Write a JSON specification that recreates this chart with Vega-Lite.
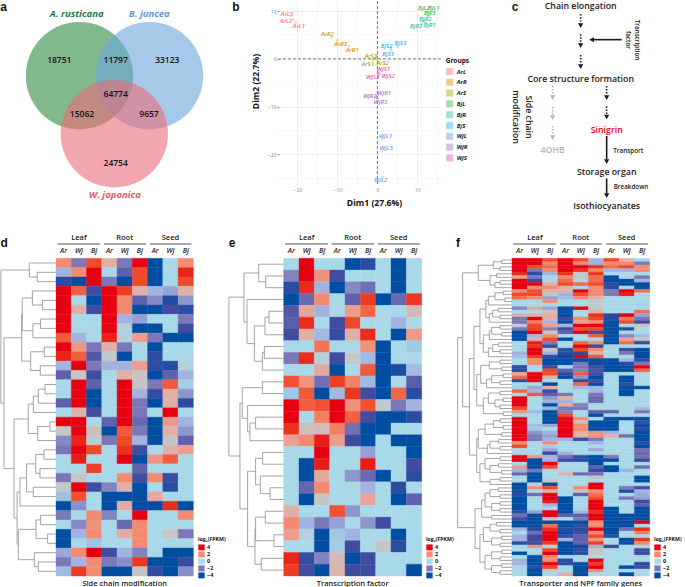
{"$schema":"https://vega.github.io/schema/vega-lite/v6.json","padding":0,"background":"white","config":{"view":{"stroke":null},"font":"Open Sans"},"spacing":0,"resolve":{"scale":{"color":"independent","stroke":"independent","shape":"independent"},"legend":{"color":"independent","stroke":"independent","shape":"independent"}},
"datasets":{
"venn":[{"set":"A. rusticana","x":39.75,"y":37.35},{"set":"B. juncea","x":74.75,"y":37.35},{"set":"W. japonica","x":57.15,"y":66.35}],
"vennCounts":[{"n":"18751","x":29.65,"y":29.65},{"n":"11797","x":57.85,"y":29.65},{"n":"33123","x":83.65,"y":29.65},{"n":"64774","x":57.85,"y":46.5},{"n":"15062","x":41,"y":56.5},{"n":"9657","x":74.5,"y":56.5},{"n":"24754","x":57.85,"y":81.15}],
"vennNames":[{"set":"A. rusticana","x":38.35,"y":6.65},{"set":"B. juncea","x":74.65,"y":6.65},{"set":"W. japonica","x":57.35,"y":96.85}],
"lettersTop":[{"t":"a","x":1.8,"y":3.2},{"t":"b","x":118,"y":3.2}],
"pca":[{"s":"ArL1","g":"ArL","d1":-20.5,"d2":7.6,"lx":-19.6,"ly":6.8},{"s":"ArL2","g":"ArL","d1":-21,"d2":8.2,"lx":-22.9,"ly":8},{"s":"ArL3","g":"ArL","d1":-21.5,"d2":9,"lx":-22.6,"ly":9.3},{"s":"ArR1","g":"ArR","d1":-7.2,"d2":2.7,"lx":-6.3,"ly":1.9},{"s":"ArR2","g":"ArR","d1":-11.5,"d2":4.5,"lx":-12.5,"ly":5.2},{"s":"ArR3","g":"ArR","d1":-10,"d2":3.9,"lx":-9.2,"ly":3.2},{"s":"ArS1","g":"ArS","d1":-1.2,"d2":-0.3,"lx":-2.4,"ly":-1},{"s":"ArS2","g":"ArS","d1":0,"d2":-0.2,"lx":1.3,"ly":-0.8},{"s":"ArS3","g":"ArS","d1":-0.6,"d2":0.2,"lx":-1.6,"ly":0.56},{"s":"BjL1","g":"BjL","d1":13.5,"d2":9.8,"lx":14.1,"ly":10.7},{"s":"BjL2","g":"BjL","d1":12.5,"d2":9.8,"lx":11.6,"ly":10.7},{"s":"BjL3","g":"BjL","d1":12.8,"d2":9,"lx":13.1,"ly":9.5},{"s":"BjR1","g":"BjR","d1":12,"d2":7.6,"lx":13.1,"ly":7},{"s":"BjR2","g":"BjR","d1":11.5,"d2":7.9,"lx":12,"ly":8.4},{"s":"BjR3","g":"BjR","d1":11,"d2":7.4,"lx":9.7,"ly":6.9},{"s":"BjS1","g":"BjS","d1":3.4,"d2":1.8,"lx":2.7,"ly":1},{"s":"BjS2","g":"BjS","d1":3.4,"d2":2.3,"lx":2.3,"ly":2.7},{"s":"BjS3","g":"BjS","d1":5,"d2":2.6,"lx":5.75,"ly":3.3},{"s":"WjL1","g":"WjL","d1":1.2,"d2":-16.8,"lx":2,"ly":-16.2},{"s":"WjL2","g":"WjL","d1":1.3,"d2":-24.7,"lx":0.8,"ly":-25.4},{"s":"WjL3","g":"WjL","d1":1.1,"d2":-19.4,"lx":2.2,"ly":-18.6},{"s":"WjR1","g":"WjR","d1":0,"d2":-7.7,"lx":1.7,"ly":-7.2},{"s":"WjR2","g":"WjR","d1":-0.4,"d2":-8,"lx":-1.9,"ly":-7.7},{"s":"WjR3","g":"WjR","d1":0,"d2":-8.3,"lx":0.75,"ly":-9},{"s":"WjS1","g":"WjS","d1":0.4,"d2":-2.9,"lx":1.5,"ly":-2.2},{"s":"WjS2","g":"WjS","d1":0.5,"d2":-3.1,"lx":2.7,"ly":-3.6},{"s":"WjS3","g":"WjS","d1":0.2,"d2":-3.3,"lx":-1.2,"ly":-3.7}],
"zero":[{"v":0}],
"minorX":[{"v":-15},{"v":-5},{"v":5},{"v":15}],
"minorY":[{"v":-25},{"v":-15},{"v":-5},{"v":5}],
"flowText":[{"t":"Chain elongation","k":"stage","tone":"dark","x":69.85,"y":2.3},{"t":"Core structure formation","k":"stage","tone":"dark","x":69.85,"y":39},{"t":"4OHB","k":"stage","tone":"gray","x":55.85,"y":74.5},{"t":"Sinigrin","k":"stage","tone":"red","x":82.85,"y":64.35},{"t":"Storage organ","k":"stage","tone":"dark","x":82.85,"y":85.5},{"t":"Isothiocyanates","k":"stage","tone":"dark","x":82.85,"y":102.35},{"t":"Transport","k":"note","tone":"dark","x":93.65,"y":74.85},{"t":"Breakdown","k":"note","tone":"dark","x":95,"y":93},{"t":"Transcription","k":"noteR","tone":"dark","x":97.85,"y":19.5},{"t":"factor","k":"noteR","tone":"dark","x":93.35,"y":19.5},{"t":"Side chain","k":"stageR","tone":"dark","x":43.85,"y":58},{"t":"modification","k":"stageR","tone":"dark","x":37.35,"y":58},{"t":"c","k":"letter","tone":"dark","x":37,"y":3.2}],
"flowLines":[{"x":69.83,"y":6.67,"y2":10.3,"kind":"dot","tone":"dark"},{"x":69.83,"y":16.67,"y2":20.8,"kind":"dot","tone":"dark"},{"x":69.83,"y":27,"y2":31.3,"kind":"dot","tone":"dark"},{"x":82.83,"y":42.5,"y2":47,"kind":"dot","tone":"dark"},{"x":82.83,"y":52.8,"y2":57,"kind":"dot","tone":"dark"},{"x":55.83,"y":42.5,"y2":47.5,"kind":"dot","tone":"gray"},{"x":55.83,"y":53,"y2":57,"kind":"dot","tone":"gray"},{"x":55.83,"y":62.5,"y2":67,"kind":"dot","tone":"gray"},{"x":82.83,"y":67.5,"y2":79.2,"kind":"solid","tone":"dark"},{"x":82.83,"y":88.7,"y2":96.3,"kind":"solid","tone":"dark"}],
"flowHeads":[{"x":69.83,"y":12.3,"d":"down","tone":"dark"},{"x":69.83,"y":22.3,"d":"down","tone":"dark"},{"x":69.83,"y":32.8,"d":"down","tone":"dark"},{"x":82.83,"y":48.3,"d":"down","tone":"dark"},{"x":82.83,"y":58,"d":"down","tone":"dark"},{"x":55.83,"y":48.3,"d":"down","tone":"gray"},{"x":55.83,"y":58.3,"d":"down","tone":"gray"},{"x":55.83,"y":68.3,"d":"down","tone":"gray"},{"x":82.83,"y":80.3,"d":"down","tone":"dark"},{"x":82.83,"y":97.3,"d":"down","tone":"dark"},{"x":75.3,"y":19.33,"d":"left","tone":"dark"}],
"flowArm":[{"x":90.33,"x2":75.83,"y":19.33}],
"groupSpans":[{"a":0.09,"b":2.89},{"a":3.13,"b":5.9},{"a":6.15,"b":8.88}],
"dCells":[{"r":1,"c":0,"v":2},{"r":1,"c":1,"v":-2},{"r":1,"c":2,"v":3},{"r":1,"c":3,"v":1},{"r":1,"c":4,"v":-2},{"r":1,"c":5,"v":4},{"r":1,"c":6,"v":-4},{"r":1,"c":7,"v":0},{"r":1,"c":8,"v":2},
{"r":2,"c":0,"v":-1},{"r":2,"c":1,"v":2},{"r":2,"c":2,"v":4},{"r":2,"c":3,"v":0},{"r":2,"c":4,"v":-2.5},{"r":2,"c":5,"v":3},{"r":2,"c":6,"v":-4},{"r":2,"c":7,"v":0},{"r":2,"c":8,"v":3.7},
{"r":3,"c":0,"v":-3.5},{"r":3,"c":1,"v":-4},{"r":3,"c":2,"v":4},{"r":3,"c":3,"v":-2},{"r":3,"c":4,"v":-4},{"r":3,"c":5,"v":3},{"r":3,"c":6,"v":-4},{"r":3,"c":7,"v":0},{"r":3,"c":8,"v":3},
{"r":4,"c":0,"v":4},{"r":4,"c":1,"v":2.7},{"r":4,"c":2,"v":-3},{"r":4,"c":3,"v":4},{"r":4,"c":4,"v":3.3},{"r":4,"c":5,"v":1},{"r":4,"c":6,"v":-1},{"r":4,"c":7,"v":-1.3},{"r":4,"c":8,"v":1},
{"r":5,"c":0,"v":4},{"r":5,"c":1,"v":0},{"r":5,"c":2,"v":-4},{"r":5,"c":3,"v":4},{"r":5,"c":4,"v":2},{"r":5,"c":5,"v":-2.5},{"r":5,"c":6,"v":-1.7},{"r":5,"c":7,"v":-3.7},{"r":5,"c":8,"v":-1.5},
{"r":6,"c":0,"v":4},{"r":6,"c":1,"v":1},{"r":6,"c":2,"v":-3},{"r":6,"c":3,"v":4},{"r":6,"c":4,"v":2},{"r":6,"c":5,"v":-4},{"r":6,"c":6,"v":-4},{"r":6,"c":7,"v":-3},{"r":6,"c":8,"v":-3.5},
{"r":7,"c":0,"v":4},{"r":7,"c":1,"v":0},{"r":7,"c":2,"v":0},{"r":7,"c":3,"v":4},{"r":7,"c":4,"v":-1},{"r":7,"c":5,"v":-1.3},{"r":7,"c":6,"v":0},{"r":7,"c":7,"v":0},{"r":7,"c":8,"v":-2},
{"r":8,"c":0,"v":4},{"r":8,"c":1,"v":0},{"r":8,"c":2,"v":0},{"r":8,"c":3,"v":4},{"r":8,"c":4,"v":0.2},{"r":8,"c":5,"v":-4},{"r":8,"c":6,"v":-4},{"r":8,"c":7,"v":0},{"r":8,"c":8,"v":-3},
{"r":9,"c":0,"v":2.8},{"r":9,"c":1,"v":-1},{"r":9,"c":2,"v":0},{"r":9,"c":3,"v":3.7},{"r":9,"c":4,"v":0.2},{"r":9,"c":5,"v":1.5},{"r":9,"c":6,"v":-2},{"r":9,"c":7,"v":-4},{"r":9,"c":8,"v":-4},
{"r":10,"c":0,"v":4},{"r":10,"c":1,"v":1.7},{"r":10,"c":2,"v":-2},{"r":10,"c":3,"v":1},{"r":10,"c":4,"v":-2},{"r":10,"c":5,"v":0},{"r":10,"c":6,"v":-4},{"r":10,"c":7,"v":0},{"r":10,"c":8,"v":0},
{"r":11,"c":0,"v":3.7},{"r":11,"c":1,"v":2.7},{"r":11,"c":2,"v":-2.7},{"r":11,"c":3,"v":0.4},{"r":11,"c":4,"v":-4},{"r":11,"c":5,"v":0},{"r":11,"c":6,"v":-3.5},{"r":11,"c":7,"v":0},{"r":11,"c":8,"v":0},
{"r":12,"c":0,"v":-1},{"r":12,"c":1,"v":4},{"r":12,"c":2,"v":-2},{"r":12,"c":3,"v":-1},{"r":12,"c":4,"v":-1},{"r":12,"c":5,"v":1.5},{"r":12,"c":6,"v":-3.5},{"r":12,"c":7,"v":-3.6},{"r":12,"c":8,"v":0.2},
{"r":13,"c":0,"v":-2.5},{"r":13,"c":1,"v":0.5},{"r":13,"c":2,"v":-3},{"r":13,"c":3,"v":0},{"r":13,"c":4,"v":1},{"r":13,"c":5,"v":0.6},{"r":13,"c":6,"v":-4},{"r":13,"c":7,"v":-2.5},{"r":13,"c":8,"v":-1},
{"r":14,"c":0,"v":0},{"r":14,"c":1,"v":4},{"r":14,"c":2,"v":-2.5},{"r":14,"c":3,"v":0},{"r":14,"c":4,"v":4},{"r":14,"c":5,"v":0.5},{"r":14,"c":6,"v":-2},{"r":14,"c":7,"v":2.8},{"r":14,"c":8,"v":-0.3},
{"r":15,"c":0,"v":0},{"r":15,"c":1,"v":4},{"r":15,"c":2,"v":-4},{"r":15,"c":3,"v":0},{"r":15,"c":4,"v":4},{"r":15,"c":5,"v":-1},{"r":15,"c":6,"v":-3.3},{"r":15,"c":7,"v":1},{"r":15,"c":8,"v":-1.5},
{"r":16,"c":0,"v":-2.5},{"r":16,"c":1,"v":4},{"r":16,"c":2,"v":-4},{"r":16,"c":3,"v":0},{"r":16,"c":4,"v":4},{"r":16,"c":5,"v":-2},{"r":16,"c":6,"v":-4},{"r":16,"c":7,"v":1},{"r":16,"c":8,"v":-3.5},
{"r":17,"c":0,"v":0},{"r":17,"c":1,"v":1},{"r":17,"c":2,"v":-3},{"r":17,"c":3,"v":0},{"r":17,"c":4,"v":4},{"r":17,"c":5,"v":-2},{"r":17,"c":6,"v":0},{"r":17,"c":7,"v":4},{"r":17,"c":8,"v":0},
{"r":18,"c":0,"v":4},{"r":18,"c":1,"v":4},{"r":18,"c":2,"v":0},{"r":18,"c":3,"v":-2.5},{"r":18,"c":4,"v":4},{"r":18,"c":5,"v":-2.3},{"r":18,"c":6,"v":-4},{"r":18,"c":7,"v":1.6},{"r":18,"c":8,"v":-1},
{"r":19,"c":0,"v":0.5},{"r":19,"c":1,"v":4},{"r":19,"c":2,"v":0.7},{"r":19,"c":3,"v":-4},{"r":19,"c":4,"v":2.8},{"r":19,"c":5,"v":-2},{"r":19,"c":6,"v":-4},{"r":19,"c":7,"v":1},{"r":19,"c":8,"v":-1.5},
{"r":20,"c":0,"v":-1.7},{"r":20,"c":1,"v":3.7},{"r":20,"c":2,"v":0.3},{"r":20,"c":3,"v":-2},{"r":20,"c":4,"v":3},{"r":20,"c":5,"v":-1},{"r":20,"c":6,"v":-4},{"r":20,"c":7,"v":0.5},{"r":20,"c":8,"v":-2.5},
{"r":21,"c":0,"v":-2},{"r":21,"c":1,"v":4},{"r":21,"c":2,"v":3},{"r":21,"c":3,"v":0},{"r":21,"c":4,"v":3.5},{"r":21,"c":5,"v":-3},{"r":21,"c":6,"v":0},{"r":21,"c":7,"v":1},{"r":21,"c":8,"v":1.5},
{"r":22,"c":0,"v":0},{"r":22,"c":1,"v":3.8},{"r":22,"c":2,"v":0},{"r":22,"c":3,"v":0},{"r":22,"c":4,"v":4},{"r":22,"c":5,"v":-4},{"r":22,"c":6,"v":1.7},{"r":22,"c":7,"v":2.7},{"r":22,"c":8,"v":0},
{"r":23,"c":0,"v":0},{"r":23,"c":1,"v":0},{"r":23,"c":2,"v":3.2},{"r":23,"c":3,"v":0},{"r":23,"c":4,"v":0},{"r":23,"c":5,"v":-2.5},{"r":23,"c":6,"v":0},{"r":23,"c":7,"v":0},{"r":23,"c":8,"v":0},
{"r":24,"c":0,"v":-2},{"r":24,"c":1,"v":0.5},{"r":24,"c":2,"v":0},{"r":24,"c":3,"v":0},{"r":24,"c":4,"v":2},{"r":24,"c":5,"v":-3},{"r":24,"c":6,"v":2},{"r":24,"c":7,"v":-3.3},{"r":24,"c":8,"v":0},
{"r":25,"c":0,"v":0.4},{"r":25,"c":1,"v":4},{"r":25,"c":2,"v":-3},{"r":25,"c":3,"v":-1.8},{"r":25,"c":4,"v":1},{"r":25,"c":5,"v":-4},{"r":25,"c":6,"v":0},{"r":25,"c":7,"v":-3.6},{"r":25,"c":8,"v":0},
{"r":26,"c":0,"v":-0.7},{"r":26,"c":1,"v":2.9},{"r":26,"c":2,"v":0},{"r":26,"c":3,"v":-4},{"r":26,"c":4,"v":-4},{"r":26,"c":5,"v":-4},{"r":26,"c":6,"v":1.2},{"r":26,"c":7,"v":0},{"r":26,"c":8,"v":0},
{"r":27,"c":0,"v":-4},{"r":27,"c":1,"v":-1.6},{"r":27,"c":2,"v":0},{"r":27,"c":3,"v":-4},{"r":27,"c":4,"v":1.1},{"r":27,"c":5,"v":-4},{"r":27,"c":6,"v":-4},{"r":27,"c":7,"v":3.6},{"r":27,"c":8,"v":-4},
{"r":28,"c":0,"v":-2},{"r":28,"c":1,"v":0},{"r":28,"c":2,"v":2},{"r":28,"c":3,"v":-1.8},{"r":28,"c":4,"v":0},{"r":28,"c":5,"v":4},{"r":28,"c":6,"v":0},{"r":28,"c":7,"v":0},{"r":28,"c":8,"v":2},
{"r":29,"c":0,"v":0},{"r":29,"c":1,"v":-1.7},{"r":29,"c":2,"v":1.8},{"r":29,"c":3,"v":0},{"r":29,"c":4,"v":-2.3},{"r":29,"c":5,"v":2},{"r":29,"c":6,"v":0},{"r":29,"c":7,"v":0},{"r":29,"c":8,"v":0},
{"r":30,"c":0,"v":-4},{"r":30,"c":1,"v":-1},{"r":30,"c":2,"v":2},{"r":30,"c":3,"v":0},{"r":30,"c":4,"v":1.1},{"r":30,"c":5,"v":2},{"r":30,"c":6,"v":0},{"r":30,"c":7,"v":0.5},{"r":30,"c":8,"v":-2},
{"r":31,"c":0,"v":-4},{"r":31,"c":1,"v":0},{"r":31,"c":2,"v":-0.6},{"r":31,"c":3,"v":0},{"r":31,"c":4,"v":0},{"r":31,"c":5,"v":2},{"r":31,"c":6,"v":0},{"r":31,"c":7,"v":0},{"r":31,"c":8,"v":0},
{"r":32,"c":0,"v":-1.2},{"r":32,"c":1,"v":2},{"r":32,"c":2,"v":4},{"r":32,"c":3,"v":-3},{"r":32,"c":4,"v":-1},{"r":32,"c":5,"v":-1.8},{"r":32,"c":6,"v":0},{"r":32,"c":7,"v":-4},{"r":32,"c":8,"v":-4},
{"r":33,"c":0,"v":-2},{"r":33,"c":1,"v":-1},{"r":33,"c":2,"v":2},{"r":33,"c":3,"v":-2},{"r":33,"c":4,"v":-1.6},{"r":33,"c":5,"v":3.4},{"r":33,"c":6,"v":-4},{"r":33,"c":7,"v":-4},{"r":33,"c":8,"v":-3.3},
{"r":34,"c":0,"v":-0.8},{"r":34,"c":1,"v":3.3},{"r":34,"c":2,"v":1.9},{"r":34,"c":3,"v":-4},{"r":34,"c":4,"v":-4},{"r":34,"c":5,"v":0.5},{"r":34,"c":6,"v":-3.3},{"r":34,"c":7,"v":-4},{"r":34,"c":8,"v":-1.6}],
"dTree":[{"h":-1.23,"a":1.5,"p":0,"b":2.5,"q":0},{"h":-1.75,"a":0.5,"p":0,"b":2,"q":-1.23},{"h":-0.88,"a":4.5,"p":0,"b":5.5,"q":0},{"h":-1.55,"a":3.5,"p":0,"b":5,"q":-0.88},{"h":-1.01,"a":6.5,"p":0,"b":7.5,"q":0},{"h":-1.51,"a":7,"p":-1.01,"b":8.5,"q":0},{"h":-2.21,"a":4.25,"p":-1.55,"b":7.75,"q":-1.51},{"h":-0.77,"a":9.5,"p":0,"b":10.5,"q":0},{"h":-1.03,"a":11.5,"p":0,"b":12.5,"q":0},{"h":-1.66,"a":10,"p":-0.77,"b":12,"q":-1.03},{"h":-2.25,"a":6,"p":-2.21,"b":11,"q":-1.66},{"h":-0.72,"a":13.5,"p":0,"b":14.5,"q":0},{"h":-1.16,"a":14,"p":-0.72,"b":15.5,"q":0},{"h":-1.49,"a":14.75,"p":-1.16,"b":16.5,"q":0},{"h":-0.39,"a":17.5,"p":0,"b":18.5,"q":0},{"h":-1.2,"a":18,"p":-0.39,"b":19.5,"q":0},{"h":-1.82,"a":15.6,"p":-1.49,"b":18.75,"q":-1.2},{"h":-0.79,"a":20.5,"p":0,"b":21.5,"q":0},{"h":-1.05,"a":22.5,"p":0,"b":23.5,"q":0},{"h":-1.33,"a":21,"p":-0.79,"b":23,"q":-1.05},{"h":-1.49,"a":24.5,"p":0,"b":25.5,"q":0},{"h":-1.93,"a":22,"p":-1.33,"b":25,"q":-1.49},{"h":-2.36,"a":23.5,"p":-1.93,"b":26.5,"q":0},{"h":-1.01,"a":27.5,"p":0,"b":28.5,"q":0},{"h":-0.55,"a":29.5,"p":0,"b":30.5,"q":0},{"h":-1.31,"a":28,"p":-1.01,"b":30,"q":-0.55},{"h":-1.16,"a":32.5,"p":0,"b":33.5,"q":0},{"h":-1.42,"a":31.5,"p":0,"b":33,"q":-1.16},{"h":-2.47,"a":29,"p":-1.31,"b":32.25,"q":-1.42},{"h":-2.55,"a":25,"p":-2.36,"b":30.6,"q":-2.47},{"h":-2.75,"a":17.2,"p":-1.82,"b":27.8,"q":-2.55},{"h":-3.41,"a":8.5,"p":-2.25,"b":22.5,"q":-2.75},{"h":-3.61,"a":1.25,"p":-1.75,"b":15.5,"q":-3.41}],
"dHead":[{"t":"Leaf","k":"g","x":1.5,"y":-2.17},{"t":"Root","k":"g","x":4.5,"y":-2.17},{"t":"Seed","k":"g","x":7.5,"y":-2.17},{"t":"Ar","k":"s","x":0.5,"y":-0.78},{"t":"Wj","k":"s","x":1.5,"y":-0.78},{"t":"Bj","k":"s","x":2.5,"y":-0.78},{"t":"Ar","k":"s","x":3.5,"y":-0.78},{"t":"Wj","k":"s","x":4.5,"y":-0.78},{"t":"Bj","k":"s","x":5.5,"y":-0.78},{"t":"Ar","k":"s","x":6.5,"y":-0.78},{"t":"Wj","k":"s","x":7.5,"y":-0.78},{"t":"Bj","k":"s","x":8.5,"y":-0.78},{"t":"d","k":"l","x":-3.4,"y":-1.64},{"t":"Side chain modification","k":"c","x":4.5,"y":34.85}],
"eCells":[{"r":1,"c":0,"v":0},{"r":1,"c":1,"v":4},{"r":1,"c":2,"v":0},{"r":1,"c":3,"v":0},{"r":1,"c":4,"v":-4},{"r":1,"c":5,"v":-3.5},{"r":1,"c":6,"v":0},{"r":1,"c":7,"v":-4},{"r":1,"c":8,"v":0},
{"r":2,"c":0,"v":-1.8},{"r":2,"c":1,"v":4},{"r":2,"c":2,"v":1.8},{"r":2,"c":3,"v":-3},{"r":2,"c":4,"v":0},{"r":2,"c":5,"v":0},{"r":2,"c":6,"v":0},{"r":2,"c":7,"v":-4},{"r":2,"c":8,"v":0},
{"r":3,"c":0,"v":-3.5},{"r":3,"c":1,"v":3.6},{"r":3,"c":2,"v":-1},{"r":3,"c":3,"v":-4},{"r":3,"c":4,"v":-1.7},{"r":3,"c":5,"v":-2.2},{"r":3,"c":6,"v":0},{"r":3,"c":7,"v":-4},{"r":3,"c":8,"v":0},
{"r":4,"c":0,"v":-4},{"r":4,"c":1,"v":-2.3},{"r":4,"c":2,"v":2},{"r":4,"c":3,"v":0},{"r":4,"c":4,"v":-2.5},{"r":4,"c":5,"v":3.3},{"r":4,"c":6,"v":-4},{"r":4,"c":7,"v":-2.3},{"r":4,"c":8,"v":3.4},
{"r":5,"c":0,"v":-2.7},{"r":5,"c":1,"v":1.3},{"r":5,"c":2,"v":-1},{"r":5,"c":3,"v":0},{"r":5,"c":4,"v":1.5},{"r":5,"c":5,"v":2.6},{"r":5,"c":6,"v":0},{"r":5,"c":7,"v":0},{"r":5,"c":8,"v":0.8},
{"r":6,"c":0,"v":-2.6},{"r":6,"c":1,"v":3.6},{"r":6,"c":2,"v":0},{"r":6,"c":3,"v":-3},{"r":6,"c":4,"v":3.1},{"r":6,"c":5,"v":0},{"r":6,"c":6,"v":0},{"r":6,"c":7,"v":-1},{"r":6,"c":8,"v":0},
{"r":7,"c":0,"v":-3},{"r":7,"c":1,"v":1},{"r":7,"c":2,"v":-0.9},{"r":7,"c":3,"v":-3.2},{"r":7,"c":4,"v":1},{"r":7,"c":5,"v":3.6},{"r":7,"c":6,"v":0},{"r":7,"c":7,"v":-4},{"r":7,"c":8,"v":1.6},
{"r":8,"c":0,"v":0},{"r":8,"c":1,"v":0},{"r":8,"c":2,"v":2.4},{"r":8,"c":3,"v":0},{"r":8,"c":4,"v":0},{"r":8,"c":5,"v":1.8},{"r":8,"c":6,"v":-4},{"r":8,"c":7,"v":0},{"r":8,"c":8,"v":-0.4},
{"r":9,"c":0,"v":-2},{"r":9,"c":1,"v":3.6},{"r":9,"c":2,"v":0.2},{"r":9,"c":3,"v":-3},{"r":9,"c":4,"v":0.4},{"r":9,"c":5,"v":-0.8},{"r":9,"c":6,"v":-4},{"r":9,"c":7,"v":0},{"r":9,"c":8,"v":0},
{"r":10,"c":0,"v":0},{"r":10,"c":1,"v":0},{"r":10,"c":2,"v":1.2},{"r":10,"c":3,"v":-4},{"r":10,"c":4,"v":0},{"r":10,"c":5,"v":2.8},{"r":10,"c":6,"v":-4},{"r":10,"c":7,"v":-3.8},{"r":10,"c":8,"v":-0.8},
{"r":11,"c":0,"v":2.9},{"r":11,"c":1,"v":1.7},{"r":11,"c":2,"v":-2.2},{"r":11,"c":3,"v":3.2},{"r":11,"c":4,"v":2.1},{"r":11,"c":5,"v":-0.9},{"r":11,"c":6,"v":-4},{"r":11,"c":7,"v":0},{"r":11,"c":8,"v":-2.6},
{"r":12,"c":0,"v":-0.6},{"r":12,"c":1,"v":2.8},{"r":12,"c":2,"v":-4},{"r":12,"c":3,"v":-0.9},{"r":12,"c":4,"v":3.4},{"r":12,"c":5,"v":-3},{"r":12,"c":6,"v":-4},{"r":12,"c":7,"v":2.6},{"r":12,"c":8,"v":-3.5},
{"r":13,"c":0,"v":4},{"r":13,"c":1,"v":2.7},{"r":13,"c":2,"v":2.9},{"r":13,"c":3,"v":4},{"r":13,"c":4,"v":1.8},{"r":13,"c":5,"v":2.9},{"r":13,"c":6,"v":0.3},{"r":13,"c":7,"v":-2},{"r":13,"c":8,"v":-1},
{"r":14,"c":0,"v":4},{"r":14,"c":1,"v":0},{"r":14,"c":2,"v":2.2},{"r":14,"c":3,"v":4},{"r":14,"c":4,"v":2.7},{"r":14,"c":5,"v":-3},{"r":14,"c":6,"v":-4},{"r":14,"c":7,"v":-4},{"r":14,"c":8,"v":-3.5},
{"r":15,"c":0,"v":3.5},{"r":15,"c":1,"v":0.6},{"r":15,"c":2,"v":0.7},{"r":15,"c":3,"v":2.2},{"r":15,"c":4,"v":-2.2},{"r":15,"c":5,"v":-4},{"r":15,"c":6,"v":-4},{"r":15,"c":7,"v":0},{"r":15,"c":8,"v":0},
{"r":16,"c":0,"v":1.4},{"r":16,"c":1,"v":2},{"r":16,"c":2,"v":3.8},{"r":16,"c":3,"v":1.5},{"r":16,"c":4,"v":-3},{"r":16,"c":5,"v":-4},{"r":16,"c":6,"v":0},{"r":16,"c":7,"v":-4},{"r":16,"c":8,"v":-4},
{"r":17,"c":0,"v":0},{"r":17,"c":1,"v":0},{"r":17,"c":2,"v":4},{"r":17,"c":3,"v":0},{"r":17,"c":4,"v":0},{"r":17,"c":5,"v":-1.3},{"r":17,"c":6,"v":0},{"r":17,"c":7,"v":0},{"r":17,"c":8,"v":-4},
{"r":18,"c":0,"v":0},{"r":18,"c":1,"v":-4},{"r":18,"c":2,"v":3.8},{"r":18,"c":3,"v":0},{"r":18,"c":4,"v":0},{"r":18,"c":5,"v":3.8},{"r":18,"c":6,"v":0},{"r":18,"c":7,"v":0},{"r":18,"c":8,"v":-3},
{"r":19,"c":0,"v":0},{"r":19,"c":1,"v":-4},{"r":19,"c":2,"v":1.2},{"r":19,"c":3,"v":0},{"r":19,"c":4,"v":-1.5},{"r":19,"c":5,"v":-2.3},{"r":19,"c":6,"v":-4},{"r":19,"c":7,"v":0},{"r":19,"c":8,"v":-3.5},
{"r":20,"c":0,"v":0},{"r":20,"c":1,"v":-2.4},{"r":20,"c":2,"v":2},{"r":20,"c":3,"v":0},{"r":20,"c":4,"v":0},{"r":20,"c":5,"v":-1},{"r":20,"c":6,"v":0},{"r":20,"c":7,"v":-3.5},{"r":20,"c":8,"v":0},
{"r":21,"c":0,"v":0},{"r":21,"c":1,"v":-4},{"r":21,"c":2,"v":0.5},{"r":21,"c":3,"v":0},{"r":21,"c":4,"v":0},{"r":21,"c":5,"v":1.3},{"r":21,"c":6,"v":0},{"r":21,"c":7,"v":-4},{"r":21,"c":8,"v":-2.5},
{"r":22,"c":0,"v":1},{"r":22,"c":1,"v":0},{"r":22,"c":2,"v":0},{"r":22,"c":3,"v":2.9},{"r":22,"c":4,"v":-1.5},{"r":22,"c":5,"v":0},{"r":22,"c":6,"v":0},{"r":22,"c":7,"v":0},{"r":22,"c":8,"v":0},
{"r":23,"c":0,"v":2},{"r":23,"c":1,"v":-1},{"r":23,"c":2,"v":-2},{"r":23,"c":3,"v":-1.3},{"r":23,"c":4,"v":0},{"r":23,"c":5,"v":-1.5},{"r":23,"c":6,"v":-3},{"r":23,"c":7,"v":0},{"r":23,"c":8,"v":0},
{"r":24,"c":0,"v":1.5},{"r":24,"c":1,"v":0.2},{"r":24,"c":2,"v":-4},{"r":24,"c":3,"v":-0.5},{"r":24,"c":4,"v":-1},{"r":24,"c":5,"v":0},{"r":24,"c":6,"v":0},{"r":24,"c":7,"v":-4},{"r":24,"c":8,"v":0},
{"r":25,"c":0,"v":0},{"r":25,"c":1,"v":0},{"r":25,"c":2,"v":-4},{"r":25,"c":3,"v":-0.3},{"r":25,"c":4,"v":-3},{"r":25,"c":5,"v":0},{"r":25,"c":6,"v":0.5},{"r":25,"c":7,"v":-3.5},{"r":25,"c":8,"v":0},
{"r":26,"c":0,"v":3.7},{"r":26,"c":1,"v":-3.3},{"r":26,"c":2,"v":-1.8},{"r":26,"c":3,"v":0.8},{"r":26,"c":4,"v":-4},{"r":26,"c":5,"v":-3},{"r":26,"c":6,"v":0},{"r":26,"c":7,"v":0},{"r":26,"c":8,"v":0},
{"r":27,"c":0,"v":3.3},{"r":27,"c":1,"v":-3},{"r":27,"c":2,"v":-4},{"r":27,"c":3,"v":0.9},{"r":27,"c":4,"v":-3},{"r":27,"c":5,"v":-3},{"r":27,"c":6,"v":0},{"r":27,"c":7,"v":0},{"r":27,"c":8,"v":-4}],
"eTree":[{"h":-1.17,"a":1.5,"p":0,"b":2.5,"q":0},{"h":-1.63,"a":0.5,"p":0,"b":2,"q":-1.17},{"h":-0.96,"a":4.5,"p":0,"b":5.5,"q":0},{"h":-1.22,"a":5,"p":-0.96,"b":6.5,"q":0},{"h":-1.26,"a":7.5,"p":0,"b":8.5,"q":0},{"h":-1.39,"a":8,"p":-1.26,"b":9.5,"q":0},{"h":-1.91,"a":5.75,"p":-1.22,"b":8.75,"q":-1.39},{"h":-2.39,"a":3.5,"p":0,"b":7.25,"q":-1.91},{"h":-2.59,"a":1.25,"p":-1.63,"b":5.4,"q":-2.39},{"h":-1.39,"a":10.5,"p":0,"b":11.5,"q":0},{"h":-1.83,"a":13.5,"p":0,"b":14.5,"q":0},{"h":-2.2,"a":14,"p":-1.83,"b":15.5,"q":0},{"h":-2.35,"a":12.5,"p":0,"b":14.75,"q":-2.2},{"h":-2.7,"a":11,"p":-1.39,"b":13.6,"q":-2.35},{"h":-1.37,"a":16.5,"p":0,"b":17.5,"q":0},{"h":-0.89,"a":19.5,"p":0,"b":20.5,"q":0},{"h":-1.52,"a":18.5,"p":0,"b":20,"q":-0.89},{"h":-1.83,"a":17,"p":-1.37,"b":19.25,"q":-1.52},{"h":-1.2,"a":21.5,"p":0,"b":22.5,"q":0},{"h":-0.63,"a":23.5,"p":0,"b":24.5,"q":0},{"h":-1.83,"a":22,"p":-1.2,"b":24,"q":-0.63},{"h":-1.46,"a":25.5,"p":0,"b":26.5,"q":0},{"h":-1.87,"a":23,"p":-1.83,"b":26,"q":-1.46},{"h":-2.35,"a":18.1,"p":-1.83,"b":24.5,"q":-1.87},{"h":-2.85,"a":12.3,"p":-2.7,"b":21.3,"q":-2.35},{"h":-3.57,"a":3.3,"p":-2.59,"b":16.8,"q":-2.85}],
"eHead":[{"t":"Leaf","k":"g","x":1.5,"y":-1.73},{"t":"Root","k":"g","x":4.5,"y":-1.73},{"t":"Seed","k":"g","x":7.5,"y":-1.73},{"t":"Ar","k":"s","x":0.5,"y":-0.62},{"t":"Wj","k":"s","x":1.5,"y":-0.62},{"t":"Bj","k":"s","x":2.5,"y":-0.62},{"t":"Ar","k":"s","x":3.5,"y":-0.62},{"t":"Wj","k":"s","x":4.5,"y":-0.62},{"t":"Bj","k":"s","x":5.5,"y":-0.62},{"t":"Ar","k":"s","x":6.5,"y":-0.62},{"t":"Wj","k":"s","x":7.5,"y":-0.62},{"t":"Bj","k":"s","x":8.5,"y":-0.62},{"t":"e","k":"l","x":-3.37,"y":-1.3},{"t":"Transcription factor","k":"c","x":4.5,"y":27.68}],
"fCells":[{"r":1,"c":0,"v":4},{"r":1,"c":1,"v":4},{"r":1,"c":2,"v":3},{"r":1,"c":3,"v":4},{"r":1,"c":4,"v":3},{"r":1,"c":5,"v":-1},{"r":1,"c":6,"v":3},{"r":1,"c":7,"v":1},{"r":1,"c":8,"v":0},
{"r":2,"c":0,"v":4},{"r":2,"c":1,"v":4},{"r":2,"c":2,"v":2},{"r":2,"c":3,"v":4},{"r":2,"c":4,"v":2},{"r":2,"c":5,"v":-1},{"r":2,"c":6,"v":2},{"r":2,"c":7,"v":2},{"r":2,"c":8,"v":-2},
{"r":3,"c":0,"v":4},{"r":3,"c":1,"v":3},{"r":3,"c":2,"v":2.5},{"r":3,"c":3,"v":4},{"r":3,"c":4,"v":4},{"r":3,"c":5,"v":3.5},{"r":3,"c":6,"v":2.5},{"r":3,"c":7,"v":3},{"r":3,"c":8,"v":2},
{"r":4,"c":0,"v":4},{"r":4,"c":1,"v":-2},{"r":4,"c":2,"v":2},{"r":4,"c":3,"v":4},{"r":4,"c":4,"v":3.5},{"r":4,"c":5,"v":2},{"r":4,"c":6,"v":-1},{"r":4,"c":7,"v":-1},{"r":4,"c":8,"v":2},
{"r":5,"c":0,"v":3.6},{"r":5,"c":1,"v":-3.5},{"r":5,"c":2,"v":-1},{"r":5,"c":3,"v":3.5},{"r":5,"c":4,"v":0.5},{"r":5,"c":5,"v":3.5},{"r":5,"c":6,"v":0},{"r":5,"c":7,"v":0},{"r":5,"c":8,"v":0},
{"r":6,"c":0,"v":1.5},{"r":6,"c":1,"v":-2},{"r":6,"c":2,"v":0},{"r":6,"c":3,"v":2},{"r":6,"c":4,"v":0.5},{"r":6,"c":5,"v":2.5},{"r":6,"c":6,"v":-4},{"r":6,"c":7,"v":0},{"r":6,"c":8,"v":-2},
{"r":7,"c":0,"v":4},{"r":7,"c":1,"v":-3},{"r":7,"c":2,"v":0},{"r":7,"c":3,"v":2.5},{"r":7,"c":4,"v":0},{"r":7,"c":5,"v":2.5},{"r":7,"c":6,"v":-4},{"r":7,"c":7,"v":-4},{"r":7,"c":8,"v":-1},
{"r":8,"c":0,"v":4},{"r":8,"c":1,"v":4},{"r":8,"c":2,"v":1},{"r":8,"c":3,"v":3},{"r":8,"c":4,"v":2.5},{"r":8,"c":5,"v":3},{"r":8,"c":6,"v":-3.5},{"r":8,"c":7,"v":-4},{"r":8,"c":8,"v":-4},
{"r":9,"c":0,"v":4},{"r":9,"c":1,"v":2},{"r":9,"c":2,"v":2},{"r":9,"c":3,"v":1},{"r":9,"c":4,"v":0},{"r":9,"c":5,"v":2},{"r":9,"c":6,"v":-3.5},{"r":9,"c":7,"v":0},{"r":9,"c":8,"v":-4},
{"r":10,"c":0,"v":2},{"r":10,"c":1,"v":3},{"r":10,"c":2,"v":1},{"r":10,"c":3,"v":1},{"r":10,"c":4,"v":4},{"r":10,"c":5,"v":2},{"r":10,"c":6,"v":-2},{"r":10,"c":7,"v":4},{"r":10,"c":8,"v":2.5},
{"r":11,"c":0,"v":3},{"r":11,"c":1,"v":3},{"r":11,"c":2,"v":0.5},{"r":11,"c":3,"v":-1},{"r":11,"c":4,"v":3},{"r":11,"c":5,"v":2},{"r":11,"c":6,"v":-2},{"r":11,"c":7,"v":3.8},{"r":11,"c":8,"v":0},
{"r":12,"c":0,"v":2.6},{"r":12,"c":1,"v":2},{"r":12,"c":2,"v":-1.3},{"r":12,"c":3,"v":-0.8},{"r":12,"c":4,"v":2},{"r":12,"c":5,"v":1},{"r":12,"c":6,"v":0},{"r":12,"c":7,"v":0},{"r":12,"c":8,"v":0},
{"r":13,"c":0,"v":0},{"r":13,"c":1,"v":0},{"r":13,"c":2,"v":2},{"r":13,"c":3,"v":0},{"r":13,"c":4,"v":0},{"r":13,"c":5,"v":0.4},{"r":13,"c":6,"v":0},{"r":13,"c":7,"v":0},{"r":13,"c":8,"v":0},
{"r":14,"c":0,"v":0},{"r":14,"c":1,"v":0},{"r":14,"c":2,"v":0.1},{"r":14,"c":3,"v":0},{"r":14,"c":4,"v":0},{"r":14,"c":5,"v":0.3},{"r":14,"c":6,"v":0},{"r":14,"c":7,"v":0},{"r":14,"c":8,"v":-0.2},
{"r":15,"c":0,"v":-1.7},{"r":15,"c":1,"v":1.2},{"r":15,"c":2,"v":-1.2},{"r":15,"c":3,"v":-4},{"r":15,"c":4,"v":4},{"r":15,"c":5,"v":0.5},{"r":15,"c":6,"v":0},{"r":15,"c":7,"v":0},{"r":15,"c":8,"v":0},
{"r":16,"c":0,"v":0},{"r":16,"c":1,"v":0},{"r":16,"c":2,"v":0.8},{"r":16,"c":3,"v":-4},{"r":16,"c":4,"v":0},{"r":16,"c":5,"v":1},{"r":16,"c":6,"v":0},{"r":16,"c":7,"v":0},{"r":16,"c":8,"v":2.5},
{"r":17,"c":0,"v":1},{"r":17,"c":1,"v":1},{"r":17,"c":2,"v":1},{"r":17,"c":3,"v":-4},{"r":17,"c":4,"v":0},{"r":17,"c":5,"v":3.5},{"r":17,"c":6,"v":-3.5},{"r":17,"c":7,"v":4},{"r":17,"c":8,"v":-1.3},
{"r":18,"c":0,"v":-2},{"r":18,"c":1,"v":4},{"r":18,"c":2,"v":1},{"r":18,"c":3,"v":-3},{"r":18,"c":4,"v":2},{"r":18,"c":5,"v":3},{"r":18,"c":6,"v":-3.5},{"r":18,"c":7,"v":2.3},{"r":18,"c":8,"v":-2},
{"r":19,"c":0,"v":-2},{"r":19,"c":1,"v":2.2},{"r":19,"c":2,"v":-1},{"r":19,"c":3,"v":-4},{"r":19,"c":4,"v":1.5},{"r":19,"c":5,"v":2},{"r":19,"c":6,"v":-4},{"r":19,"c":7,"v":3},{"r":19,"c":8,"v":-3},
{"r":20,"c":0,"v":0.2},{"r":20,"c":1,"v":3},{"r":20,"c":2,"v":1.5},{"r":20,"c":3,"v":-1},{"r":20,"c":4,"v":4},{"r":20,"c":5,"v":4},{"r":20,"c":6,"v":-4},{"r":20,"c":7,"v":0},{"r":20,"c":8,"v":0.6},
{"r":21,"c":0,"v":-2},{"r":21,"c":1,"v":3.3},{"r":21,"c":2,"v":-1.8},{"r":21,"c":3,"v":-3},{"r":21,"c":4,"v":3},{"r":21,"c":5,"v":3},{"r":21,"c":6,"v":-4},{"r":21,"c":7,"v":-3.5},{"r":21,"c":8,"v":0},
{"r":22,"c":0,"v":-4},{"r":22,"c":1,"v":4},{"r":22,"c":2,"v":0.5},{"r":22,"c":3,"v":-2.5},{"r":22,"c":4,"v":4},{"r":22,"c":5,"v":-3},{"r":22,"c":6,"v":-4},{"r":22,"c":7,"v":0},{"r":22,"c":8,"v":0},
{"r":23,"c":0,"v":-4},{"r":23,"c":1,"v":-1},{"r":23,"c":2,"v":2},{"r":23,"c":3,"v":0},{"r":23,"c":4,"v":0},{"r":23,"c":5,"v":2.8},{"r":23,"c":6,"v":-4},{"r":23,"c":7,"v":-1.7},{"r":23,"c":8,"v":-0.8},
{"r":24,"c":0,"v":-4},{"r":24,"c":1,"v":1},{"r":24,"c":2,"v":3},{"r":24,"c":3,"v":-4},{"r":24,"c":4,"v":0},{"r":24,"c":5,"v":0},{"r":24,"c":6,"v":-4},{"r":24,"c":7,"v":1.5},{"r":24,"c":8,"v":0.5},
{"r":25,"c":0,"v":0},{"r":25,"c":1,"v":3.8},{"r":25,"c":2,"v":-2},{"r":25,"c":3,"v":0},{"r":25,"c":4,"v":2.6},{"r":25,"c":5,"v":2},{"r":25,"c":6,"v":-4},{"r":25,"c":7,"v":2.5},{"r":25,"c":8,"v":-3.3},
{"r":26,"c":0,"v":0},{"r":26,"c":1,"v":3.4},{"r":26,"c":2,"v":-3.3},{"r":26,"c":3,"v":0},{"r":26,"c":4,"v":4},{"r":26,"c":5,"v":-3},{"r":26,"c":6,"v":0},{"r":26,"c":7,"v":0},{"r":26,"c":8,"v":0},
{"r":27,"c":0,"v":0},{"r":27,"c":1,"v":4},{"r":27,"c":2,"v":0.5},{"r":27,"c":3,"v":-3.5},{"r":27,"c":4,"v":3},{"r":27,"c":5,"v":2},{"r":27,"c":6,"v":0},{"r":27,"c":7,"v":-3},{"r":27,"c":8,"v":-4},
{"r":28,"c":0,"v":-1},{"r":28,"c":1,"v":4},{"r":28,"c":2,"v":-1},{"r":28,"c":3,"v":-3.5},{"r":28,"c":4,"v":-3.3},{"r":28,"c":5,"v":1},{"r":28,"c":6,"v":0},{"r":28,"c":7,"v":-2},{"r":28,"c":8,"v":-4},
{"r":29,"c":0,"v":-0.7},{"r":29,"c":1,"v":3.2},{"r":29,"c":2,"v":-3.3},{"r":29,"c":3,"v":-4},{"r":29,"c":4,"v":4},{"r":29,"c":5,"v":2.8},{"r":29,"c":6,"v":0},{"r":29,"c":7,"v":0},{"r":29,"c":8,"v":-4},
{"r":30,"c":0,"v":0},{"r":30,"c":1,"v":2},{"r":30,"c":2,"v":-4},{"r":30,"c":3,"v":-4},{"r":30,"c":4,"v":-4},{"r":30,"c":5,"v":-4},{"r":30,"c":6,"v":-4},{"r":30,"c":7,"v":-1},{"r":30,"c":8,"v":-3.5},
{"r":31,"c":0,"v":0},{"r":31,"c":1,"v":2},{"r":31,"c":2,"v":-4},{"r":31,"c":3,"v":-4},{"r":31,"c":4,"v":-2},{"r":31,"c":5,"v":-4},{"r":31,"c":6,"v":-4},{"r":31,"c":7,"v":-3.5},{"r":31,"c":8,"v":-2},
{"r":32,"c":0,"v":-3.5},{"r":32,"c":1,"v":0},{"r":32,"c":2,"v":-3},{"r":32,"c":3,"v":0},{"r":32,"c":4,"v":-2},{"r":32,"c":5,"v":-3},{"r":32,"c":6,"v":-4},{"r":32,"c":7,"v":-4},{"r":32,"c":8,"v":4},
{"r":33,"c":0,"v":-3.5},{"r":33,"c":1,"v":0},{"r":33,"c":2,"v":3},{"r":33,"c":3,"v":-2.5},{"r":33,"c":4,"v":-1.8},{"r":33,"c":5,"v":-2.8},{"r":33,"c":6,"v":-4},{"r":33,"c":7,"v":-4},{"r":33,"c":8,"v":2.6},
{"r":34,"c":0,"v":1.2},{"r":34,"c":1,"v":4},{"r":34,"c":2,"v":3},{"r":34,"c":3,"v":-3.5},{"r":34,"c":4,"v":2.8},{"r":34,"c":5,"v":-3},{"r":34,"c":6,"v":0},{"r":34,"c":7,"v":0},{"r":34,"c":8,"v":0},
{"r":35,"c":0,"v":2.5},{"r":35,"c":1,"v":4},{"r":35,"c":2,"v":1},{"r":35,"c":3,"v":-4},{"r":35,"c":4,"v":-1.5},{"r":35,"c":5,"v":-4},{"r":35,"c":6,"v":0},{"r":35,"c":7,"v":-4},{"r":35,"c":8,"v":0},
{"r":36,"c":0,"v":-3.5},{"r":36,"c":1,"v":4},{"r":36,"c":2,"v":0},{"r":36,"c":3,"v":0},{"r":36,"c":4,"v":-3.5},{"r":36,"c":5,"v":-3},{"r":36,"c":6,"v":0},{"r":36,"c":7,"v":-4},{"r":36,"c":8,"v":0},
{"r":37,"c":0,"v":0},{"r":37,"c":1,"v":0},{"r":37,"c":2,"v":-4},{"r":37,"c":3,"v":0},{"r":37,"c":4,"v":2.6},{"r":37,"c":5,"v":-4},{"r":37,"c":6,"v":0},{"r":37,"c":7,"v":-3.4},{"r":37,"c":8,"v":0},
{"r":38,"c":0,"v":-0.2},{"r":38,"c":1,"v":-1.2},{"r":38,"c":2,"v":1},{"r":38,"c":3,"v":0},{"r":38,"c":4,"v":-0.8},{"r":38,"c":5,"v":-1},{"r":38,"c":6,"v":0},{"r":38,"c":7,"v":-4},{"r":38,"c":8,"v":-4},
{"r":39,"c":0,"v":2.6},{"r":39,"c":1,"v":-1},{"r":39,"c":2,"v":-3},{"r":39,"c":3,"v":0},{"r":39,"c":4,"v":0},{"r":39,"c":5,"v":-1},{"r":39,"c":6,"v":0},{"r":39,"c":7,"v":-4},{"r":39,"c":8,"v":0},
{"r":40,"c":0,"v":0},{"r":40,"c":1,"v":2.8},{"r":40,"c":2,"v":-2.5},{"r":40,"c":3,"v":-2},{"r":40,"c":4,"v":0},{"r":40,"c":5,"v":-2},{"r":40,"c":6,"v":0},{"r":40,"c":7,"v":-4},{"r":40,"c":8,"v":0},
{"r":41,"c":0,"v":4},{"r":41,"c":1,"v":0},{"r":41,"c":2,"v":-1.5},{"r":41,"c":3,"v":1},{"r":41,"c":4,"v":0},{"r":41,"c":5,"v":-2.3},{"r":41,"c":6,"v":0},{"r":41,"c":7,"v":0},{"r":41,"c":8,"v":0},
{"r":42,"c":0,"v":4},{"r":42,"c":1,"v":0},{"r":42,"c":2,"v":-1},{"r":42,"c":3,"v":-1},{"r":42,"c":4,"v":0},{"r":42,"c":5,"v":-2.3},{"r":42,"c":6,"v":0},{"r":42,"c":7,"v":0},{"r":42,"c":8,"v":0},
{"r":43,"c":0,"v":4},{"r":43,"c":1,"v":0},{"r":43,"c":2,"v":-4},{"r":43,"c":3,"v":1.2},{"r":43,"c":4,"v":-1.8},{"r":43,"c":5,"v":0},{"r":43,"c":6,"v":0},{"r":43,"c":7,"v":0},{"r":43,"c":8,"v":0},
{"r":44,"c":0,"v":3},{"r":44,"c":1,"v":0},{"r":44,"c":2,"v":-1},{"r":44,"c":3,"v":-2},{"r":44,"c":4,"v":-2},{"r":44,"c":5,"v":0},{"r":44,"c":6,"v":0},{"r":44,"c":7,"v":0},{"r":44,"c":8,"v":-0.8},
{"r":45,"c":0,"v":1.7},{"r":45,"c":1,"v":-0.8},{"r":45,"c":2,"v":-4},{"r":45,"c":3,"v":-1.8},{"r":45,"c":4,"v":0},{"r":45,"c":5,"v":-2.5},{"r":45,"c":6,"v":-2.5},{"r":45,"c":7,"v":0},{"r":45,"c":8,"v":-2},
{"r":46,"c":0,"v":0},{"r":46,"c":1,"v":0},{"r":46,"c":2,"v":-4},{"r":46,"c":3,"v":3},{"r":46,"c":4,"v":0},{"r":46,"c":5,"v":-4},{"r":46,"c":6,"v":0},{"r":46,"c":7,"v":0},{"r":46,"c":8,"v":0},
{"r":47,"c":0,"v":4},{"r":47,"c":1,"v":0},{"r":47,"c":2,"v":-4},{"r":47,"c":3,"v":4},{"r":47,"c":4,"v":2},{"r":47,"c":5,"v":0},{"r":47,"c":6,"v":-4},{"r":47,"c":7,"v":-4},{"r":47,"c":8,"v":-4},
{"r":48,"c":0,"v":4},{"r":48,"c":1,"v":0},{"r":48,"c":2,"v":-4},{"r":48,"c":3,"v":4},{"r":48,"c":4,"v":0.7},{"r":48,"c":5,"v":-4},{"r":48,"c":6,"v":-4},{"r":48,"c":7,"v":0},{"r":48,"c":8,"v":-3},
{"r":49,"c":0,"v":4},{"r":49,"c":1,"v":-0.7},{"r":49,"c":2,"v":-1.2},{"r":49,"c":3,"v":4},{"r":49,"c":4,"v":2},{"r":49,"c":5,"v":-4},{"r":49,"c":6,"v":-4},{"r":49,"c":7,"v":0},{"r":49,"c":8,"v":-4},
{"r":50,"c":0,"v":4},{"r":50,"c":1,"v":-0.5},{"r":50,"c":2,"v":0},{"r":50,"c":3,"v":4},{"r":50,"c":4,"v":2},{"r":50,"c":5,"v":-4},{"r":50,"c":6,"v":-4},{"r":50,"c":7,"v":0},{"r":50,"c":8,"v":-3.5},
{"r":51,"c":0,"v":4},{"r":51,"c":1,"v":-1.5},{"r":51,"c":2,"v":-1},{"r":51,"c":3,"v":4},{"r":51,"c":4,"v":1},{"r":51,"c":5,"v":1.8},{"r":51,"c":6,"v":-1},{"r":51,"c":7,"v":0},{"r":51,"c":8,"v":-4},
{"r":52,"c":0,"v":4},{"r":52,"c":1,"v":-2},{"r":52,"c":2,"v":-1.3},{"r":52,"c":3,"v":4},{"r":52,"c":4,"v":1},{"r":52,"c":5,"v":1.8},{"r":52,"c":6,"v":1},{"r":52,"c":7,"v":-2.2},{"r":52,"c":8,"v":-4},
{"r":53,"c":0,"v":4},{"r":53,"c":1,"v":-2},{"r":53,"c":2,"v":-1},{"r":53,"c":3,"v":-1},{"r":53,"c":4,"v":-3},{"r":53,"c":5,"v":-2},{"r":53,"c":6,"v":0},{"r":53,"c":7,"v":0},{"r":53,"c":8,"v":-4},
{"r":54,"c":0,"v":2},{"r":54,"c":1,"v":0},{"r":54,"c":2,"v":2},{"r":54,"c":3,"v":0},{"r":54,"c":4,"v":0},{"r":54,"c":5,"v":-1},{"r":54,"c":6,"v":0},{"r":54,"c":7,"v":0},{"r":54,"c":8,"v":-3.5},
{"r":55,"c":0,"v":3},{"r":55,"c":1,"v":0},{"r":55,"c":2,"v":-0.3},{"r":55,"c":3,"v":0},{"r":55,"c":4,"v":0},{"r":55,"c":5,"v":0},{"r":55,"c":6,"v":0},{"r":55,"c":7,"v":0},{"r":55,"c":8,"v":-4},
{"r":56,"c":0,"v":0},{"r":56,"c":1,"v":0},{"r":56,"c":2,"v":-1.2},{"r":56,"c":3,"v":0},{"r":56,"c":4,"v":0},{"r":56,"c":5,"v":-1.2},{"r":56,"c":6,"v":0},{"r":56,"c":7,"v":0},{"r":56,"c":8,"v":-2.2},
{"r":57,"c":0,"v":0},{"r":57,"c":1,"v":0},{"r":57,"c":2,"v":-3},{"r":57,"c":3,"v":-1},{"r":57,"c":4,"v":0},{"r":57,"c":5,"v":0},{"r":57,"c":6,"v":0},{"r":57,"c":7,"v":0},{"r":57,"c":8,"v":-2.4},
{"r":58,"c":0,"v":4},{"r":58,"c":1,"v":1.7},{"r":58,"c":2,"v":-1},{"r":58,"c":3,"v":-2.2},{"r":58,"c":4,"v":-3.5},{"r":58,"c":5,"v":-4},{"r":58,"c":6,"v":-2},{"r":58,"c":7,"v":0},{"r":58,"c":8,"v":-2.2},
{"r":59,"c":0,"v":4},{"r":59,"c":1,"v":-4},{"r":59,"c":2,"v":-1},{"r":59,"c":3,"v":-3},{"r":59,"c":4,"v":-3.5},{"r":59,"c":5,"v":-4},{"r":59,"c":6,"v":-4},{"r":59,"c":7,"v":0},{"r":59,"c":8,"v":-3.2},
{"r":60,"c":0,"v":0},{"r":60,"c":1,"v":-4},{"r":60,"c":2,"v":4},{"r":60,"c":3,"v":0},{"r":60,"c":4,"v":0},{"r":60,"c":5,"v":-4},{"r":60,"c":6,"v":0},{"r":60,"c":7,"v":0},{"r":60,"c":8,"v":0},
{"r":61,"c":0,"v":1.6},{"r":61,"c":1,"v":-4},{"r":61,"c":2,"v":3},{"r":61,"c":3,"v":0},{"r":61,"c":4,"v":0},{"r":61,"c":5,"v":-2.5},{"r":61,"c":6,"v":-4},{"r":61,"c":7,"v":0},{"r":61,"c":8,"v":-2.2},
{"r":62,"c":0,"v":-1},{"r":62,"c":1,"v":-2},{"r":62,"c":2,"v":0},{"r":62,"c":3,"v":0},{"r":62,"c":4,"v":0},{"r":62,"c":5,"v":-3},{"r":62,"c":6,"v":-4},{"r":62,"c":7,"v":-1},{"r":62,"c":8,"v":0},
{"r":63,"c":0,"v":-2.3},{"r":63,"c":1,"v":-4},{"r":63,"c":2,"v":0},{"r":63,"c":3,"v":1},{"r":63,"c":4,"v":-2.3},{"r":63,"c":5,"v":-2.2},{"r":63,"c":6,"v":0},{"r":63,"c":7,"v":0},{"r":63,"c":8,"v":0},
{"r":64,"c":0,"v":0},{"r":64,"c":1,"v":-4},{"r":64,"c":2,"v":0},{"r":64,"c":3,"v":0},{"r":64,"c":4,"v":0},{"r":64,"c":5,"v":0.5},{"r":64,"c":6,"v":0},{"r":64,"c":7,"v":0},{"r":64,"c":8,"v":-4},
{"r":65,"c":0,"v":0},{"r":65,"c":1,"v":-4},{"r":65,"c":2,"v":0.5},{"r":65,"c":3,"v":0},{"r":65,"c":4,"v":0},{"r":65,"c":5,"v":0},{"r":65,"c":6,"v":0},{"r":65,"c":7,"v":0},{"r":65,"c":8,"v":-4},
{"r":66,"c":0,"v":-4},{"r":66,"c":1,"v":0},{"r":66,"c":2,"v":-4},{"r":66,"c":3,"v":0},{"r":66,"c":4,"v":0},{"r":66,"c":5,"v":4},{"r":66,"c":6,"v":0},{"r":66,"c":7,"v":0},{"r":66,"c":8,"v":0},
{"r":67,"c":0,"v":-4},{"r":67,"c":1,"v":2},{"r":67,"c":2,"v":3},{"r":67,"c":3,"v":0},{"r":67,"c":4,"v":2},{"r":67,"c":5,"v":4},{"r":67,"c":6,"v":0},{"r":67,"c":7,"v":-2},{"r":67,"c":8,"v":-3},
{"r":68,"c":0,"v":-3.8},{"r":68,"c":1,"v":0},{"r":68,"c":2,"v":1},{"r":68,"c":3,"v":0},{"r":68,"c":4,"v":0.5},{"r":68,"c":5,"v":2},{"r":68,"c":6,"v":0},{"r":68,"c":7,"v":-3.5},{"r":68,"c":8,"v":-1},
{"r":69,"c":0,"v":-3.5},{"r":69,"c":1,"v":-2.2},{"r":69,"c":2,"v":4},{"r":69,"c":3,"v":0},{"r":69,"c":4,"v":-2.5},{"r":69,"c":5,"v":2.5},{"r":69,"c":6,"v":0},{"r":69,"c":7,"v":0},{"r":69,"c":8,"v":-1.2},
{"r":70,"c":0,"v":-4},{"r":70,"c":1,"v":0},{"r":70,"c":2,"v":4},{"r":70,"c":3,"v":-4},{"r":70,"c":4,"v":0},{"r":70,"c":5,"v":3},{"r":70,"c":6,"v":0},{"r":70,"c":7,"v":-2},{"r":70,"c":8,"v":-1.3},
{"r":71,"c":0,"v":-4},{"r":71,"c":1,"v":0},{"r":71,"c":2,"v":3.8},{"r":71,"c":3,"v":-4},{"r":71,"c":4,"v":0},{"r":71,"c":5,"v":4},{"r":71,"c":6,"v":0},{"r":71,"c":7,"v":0},{"r":71,"c":8,"v":-3},
{"r":72,"c":0,"v":-4},{"r":72,"c":1,"v":0},{"r":72,"c":2,"v":-1},{"r":72,"c":3,"v":-4},{"r":72,"c":4,"v":0},{"r":72,"c":5,"v":4},{"r":72,"c":6,"v":0},{"r":72,"c":7,"v":0},{"r":72,"c":8,"v":-2.5},
{"r":73,"c":0,"v":-4},{"r":73,"c":1,"v":0},{"r":73,"c":2,"v":0},{"r":73,"c":3,"v":-4},{"r":73,"c":4,"v":0},{"r":73,"c":5,"v":4},{"r":73,"c":6,"v":-4},{"r":73,"c":7,"v":0},{"r":73,"c":8,"v":-4},
{"r":74,"c":0,"v":-3.5},{"r":74,"c":1,"v":-1.3},{"r":74,"c":2,"v":4},{"r":74,"c":3,"v":-4},{"r":74,"c":4,"v":-1},{"r":74,"c":5,"v":3.6},{"r":74,"c":6,"v":-4},{"r":74,"c":7,"v":0},{"r":74,"c":8,"v":-4},
{"r":75,"c":0,"v":-2.2},{"r":75,"c":1,"v":-4},{"r":75,"c":2,"v":4},{"r":75,"c":3,"v":-2.5},{"r":75,"c":4,"v":-2.5},{"r":75,"c":5,"v":4},{"r":75,"c":6,"v":-4},{"r":75,"c":7,"v":-4},{"r":75,"c":8,"v":-4},
{"r":76,"c":0,"v":-3},{"r":76,"c":1,"v":-4},{"r":76,"c":2,"v":0.6},{"r":76,"c":3,"v":0},{"r":76,"c":4,"v":-2},{"r":76,"c":5,"v":4},{"r":76,"c":6,"v":-4},{"r":76,"c":7,"v":-4},{"r":76,"c":8,"v":-4},
{"r":77,"c":0,"v":-4},{"r":77,"c":1,"v":-4},{"r":77,"c":2,"v":-4},{"r":77,"c":3,"v":-4},{"r":77,"c":4,"v":-4},{"r":77,"c":5,"v":2},{"r":77,"c":6,"v":-4},{"r":77,"c":7,"v":-4},{"r":77,"c":8,"v":4},
{"r":78,"c":0,"v":-4},{"r":78,"c":1,"v":-4},{"r":78,"c":2,"v":2.5},{"r":78,"c":3,"v":-4},{"r":78,"c":4,"v":-3.5},{"r":78,"c":5,"v":2},{"r":78,"c":6,"v":-4},{"r":78,"c":7,"v":-4},{"r":78,"c":8,"v":0},
{"r":79,"c":0,"v":-1},{"r":79,"c":1,"v":-3.5},{"r":79,"c":2,"v":3.5},{"r":79,"c":3,"v":-3.5},{"r":79,"c":4,"v":-3.5},{"r":79,"c":5,"v":4},{"r":79,"c":6,"v":-4},{"r":79,"c":7,"v":-2.2},{"r":79,"c":8,"v":3.5},
{"r":80,"c":0,"v":0},{"r":80,"c":1,"v":-2.2},{"r":80,"c":2,"v":4},{"r":80,"c":3,"v":-4},{"r":80,"c":4,"v":-3},{"r":80,"c":5,"v":2},{"r":80,"c":6,"v":-4},{"r":80,"c":7,"v":0},{"r":80,"c":8,"v":2.2},
{"r":81,"c":0,"v":-1},{"r":81,"c":1,"v":-3},{"r":81,"c":2,"v":4},{"r":81,"c":3,"v":-3},{"r":81,"c":4,"v":-2.5},{"r":81,"c":5,"v":3},{"r":81,"c":6,"v":-3.5},{"r":81,"c":7,"v":0},{"r":81,"c":8,"v":0},
{"r":82,"c":0,"v":-1},{"r":82,"c":1,"v":-3},{"r":82,"c":2,"v":4},{"r":82,"c":3,"v":-1},{"r":82,"c":4,"v":-2.5},{"r":82,"c":5,"v":1.8},{"r":82,"c":6,"v":0},{"r":82,"c":7,"v":-4},{"r":82,"c":8,"v":3.4},
{"r":83,"c":0,"v":-3.5},{"r":83,"c":1,"v":-3},{"r":83,"c":2,"v":3.3},{"r":83,"c":3,"v":-4},{"r":83,"c":4,"v":-2.5},{"r":83,"c":5,"v":3.3},{"r":83,"c":6,"v":0},{"r":83,"c":7,"v":-4},{"r":83,"c":8,"v":2},
{"r":84,"c":0,"v":0},{"r":84,"c":1,"v":1.8},{"r":84,"c":2,"v":0},{"r":84,"c":3,"v":-4},{"r":84,"c":4,"v":-4},{"r":84,"c":5,"v":-1},{"r":84,"c":6,"v":-3},{"r":84,"c":7,"v":0},{"r":84,"c":8,"v":0},
{"r":85,"c":0,"v":0},{"r":85,"c":1,"v":0},{"r":85,"c":2,"v":3},{"r":85,"c":3,"v":-4},{"r":85,"c":4,"v":-3.5},{"r":85,"c":5,"v":0.5},{"r":85,"c":6,"v":0},{"r":85,"c":7,"v":0},{"r":85,"c":8,"v":-3},
{"r":86,"c":0,"v":-4},{"r":86,"c":1,"v":0},{"r":86,"c":2,"v":4},{"r":86,"c":3,"v":-4},{"r":86,"c":4,"v":-3.5},{"r":86,"c":5,"v":0.5},{"r":86,"c":6,"v":0},{"r":86,"c":7,"v":0},{"r":86,"c":8,"v":-3},
{"r":87,"c":0,"v":0},{"r":87,"c":1,"v":-4},{"r":87,"c":2,"v":2},{"r":87,"c":3,"v":0},{"r":87,"c":4,"v":0},{"r":87,"c":5,"v":0},{"r":87,"c":6,"v":0},{"r":87,"c":7,"v":0},{"r":87,"c":8,"v":0},
{"r":88,"c":0,"v":-1},{"r":88,"c":1,"v":-4},{"r":88,"c":2,"v":2},{"r":88,"c":3,"v":-3.5},{"r":88,"c":4,"v":0},{"r":88,"c":5,"v":4},{"r":88,"c":6,"v":0},{"r":88,"c":7,"v":0},{"r":88,"c":8,"v":0},
{"r":89,"c":0,"v":-1},{"r":89,"c":1,"v":-4},{"r":89,"c":2,"v":4},{"r":89,"c":3,"v":-3.5},{"r":89,"c":4,"v":-4},{"r":89,"c":5,"v":3.4},{"r":89,"c":6,"v":0},{"r":89,"c":7,"v":0},{"r":89,"c":8,"v":-3.5},
{"r":90,"c":0,"v":0},{"r":90,"c":1,"v":-3.5},{"r":90,"c":2,"v":3},{"r":90,"c":3,"v":0},{"r":90,"c":4,"v":-4},{"r":90,"c":5,"v":4},{"r":90,"c":6,"v":0},{"r":90,"c":7,"v":-4},{"r":90,"c":8,"v":-3},
{"r":91,"c":0,"v":0},{"r":91,"c":1,"v":-4},{"r":91,"c":2,"v":0.6},{"r":91,"c":3,"v":0},{"r":91,"c":4,"v":-4},{"r":91,"c":5,"v":1.8},{"r":91,"c":6,"v":0},{"r":91,"c":7,"v":0},{"r":91,"c":8,"v":0},
{"r":92,"c":0,"v":0},{"r":92,"c":1,"v":-4},{"r":92,"c":2,"v":0},{"r":92,"c":3,"v":1},{"r":92,"c":4,"v":-4},{"r":92,"c":5,"v":0},{"r":92,"c":6,"v":0},{"r":92,"c":7,"v":-4},{"r":92,"c":8,"v":0}],
"fTree":[{"h":-0.67,"a":0.5,"p":0,"b":1.5,"q":0},{"h":-0.78,"a":2.5,"p":0,"b":3.5,"q":0},{"h":-1.22,"a":1,"p":-0.67,"b":3,"q":-0.78},{"h":-1,"a":4.5,"p":0,"b":5.5,"q":0},{"h":-0.78,"a":6.5,"p":0,"b":7.5,"q":0},{"h":-1.11,"a":7,"p":-0.78,"b":8.5,"q":0},{"h":-1.43,"a":5,"p":-1,"b":7.75,"q":-1.11},{"h":-2.2,"a":2,"p":-1.22,"b":6.4,"q":-1.43},{"h":-0.57,"a":9.5,"p":0,"b":10.5,"q":0},{"h":-0.46,"a":11.5,"p":0,"b":12.5,"q":0},{"h":-1.11,"a":10,"p":-0.57,"b":12,"q":-0.46},{"h":-1.54,"a":11,"p":-1.11,"b":13.5,"q":0},{"h":-0.89,"a":14.5,"p":0,"b":15.5,"q":0},{"h":-0.78,"a":16.5,"p":0,"b":17.5,"q":0},{"h":-1.26,"a":15,"p":-0.89,"b":17,"q":-0.78},{"h":-1.48,"a":16,"p":-1.26,"b":18.5,"q":0},{"h":-1.7,"a":12.2,"p":-1.54,"b":17.2,"q":-1.48},{"h":-0.78,"a":19.5,"p":0,"b":20.5,"q":0},{"h":-0.67,"a":21.5,"p":0,"b":22.5,"q":0},{"h":-1.33,"a":20,"p":-0.78,"b":22,"q":-0.67},{"h":-1.48,"a":21,"p":-1.33,"b":23.5,"q":0},{"h":-0.89,"a":24.5,"p":0,"b":25.5,"q":0},{"h":-0.78,"a":26.5,"p":0,"b":27.5,"q":0},{"h":-1.26,"a":25,"p":-0.89,"b":27,"q":-0.78},{"h":-1.54,"a":26,"p":-1.26,"b":28.5,"q":0},{"h":-1.87,"a":22.2,"p":-1.48,"b":27.2,"q":-1.54},{"h":-2.09,"a":14.7,"p":-1.7,"b":24.7,"q":-1.87},{"h":-0.78,"a":29.5,"p":0,"b":30.5,"q":0},{"h":-0.67,"a":31.5,"p":0,"b":32.5,"q":0},{"h":-1.48,"a":30,"p":-0.78,"b":32,"q":-0.67},{"h":-0.57,"a":33.5,"p":0,"b":34.5,"q":0},{"h":-0.78,"a":35.5,"p":0,"b":36.5,"q":0},{"h":-1.33,"a":34,"p":-0.57,"b":36,"q":-0.78},{"h":-1.65,"a":35,"p":-1.33,"b":37.5,"q":0},{"h":-2.04,"a":31,"p":-1.48,"b":36.2,"q":-1.65},{"h":-0.78,"a":38.5,"p":0,"b":39.5,"q":0},{"h":-0.57,"a":40.5,"p":0,"b":41.5,"q":0},{"h":-0.78,"a":42.5,"p":0,"b":43.5,"q":0},{"h":-1.11,"a":41,"p":-0.57,"b":43,"q":-0.78},{"h":-1.54,"a":39,"p":-0.78,"b":42,"q":-1.11},{"h":-0.57,"a":44.5,"p":0,"b":45.5,"q":0},{"h":-1.87,"a":40.5,"p":-1.54,"b":45,"q":-0.57},{"h":-2.3,"a":33.6,"p":-2.04,"b":42.7,"q":-1.87},{"h":-2.48,"a":19.7,"p":-2.09,"b":38,"q":-2.3},{"h":-0.78,"a":46.5,"p":0,"b":47.5,"q":0},{"h":-0.57,"a":48.5,"p":0,"b":49.5,"q":0},{"h":-0.67,"a":50.5,"p":0,"b":51.5,"q":0},{"h":-1.22,"a":47,"p":-0.78,"b":49,"q":-0.57},{"h":-1.76,"a":48,"p":-1.22,"b":51,"q":-0.67},{"h":-0.89,"a":52.5,"p":0,"b":53.5,"q":0},{"h":-0.78,"a":54.5,"p":0,"b":55.5,"q":0},{"h":-1.43,"a":53,"p":-0.89,"b":55,"q":-0.78},{"h":-1.61,"a":54,"p":-1.43,"b":56.5,"q":0},{"h":-2.2,"a":49.5,"p":-1.76,"b":55,"q":-1.61},{"h":-0.78,"a":57.5,"p":0,"b":58.5,"q":0},{"h":-0.89,"a":59.5,"p":0,"b":60.5,"q":0},{"h":-0.67,"a":61.5,"p":0,"b":62.5,"q":0},{"h":-1.43,"a":60,"p":-0.89,"b":62,"q":-0.67},{"h":-1.76,"a":58,"p":-0.78,"b":61,"q":-1.43},{"h":-0.78,"a":63.5,"p":0,"b":64.5,"q":0},{"h":-1.43,"a":64,"p":-0.78,"b":65.5,"q":0},{"h":-2.09,"a":59.5,"p":-1.76,"b":64.7,"q":-1.43},{"h":-2.3,"a":52.2,"p":-2.2,"b":62,"q":-2.09},{"h":-2.78,"a":29,"p":-2.48,"b":57,"q":-2.3},{"h":-3.22,"a":4.2,"p":-2.2,"b":43,"q":-2.78},{"h":-0.89,"a":66.5,"p":0,"b":67.5,"q":0},{"h":-0.78,"a":68.5,"p":0,"b":69.5,"q":0},{"h":-1.43,"a":67,"p":-0.89,"b":69,"q":-0.78},{"h":-0.78,"a":70.5,"p":0,"b":71.5,"q":0},{"h":-0.78,"a":72.5,"p":0,"b":73.5,"q":0},{"h":-1.33,"a":71,"p":-0.78,"b":73,"q":-0.78},{"h":-1.76,"a":68,"p":-1.43,"b":72,"q":-1.33},{"h":-1.33,"a":74.5,"p":0,"b":75.5,"q":0},{"h":-1.98,"a":70,"p":-1.76,"b":75,"q":-1.33},{"h":-1,"a":76.5,"p":0,"b":77.5,"q":0},{"h":-0.78,"a":78.5,"p":0,"b":79.5,"q":0},{"h":-1.43,"a":77,"p":-1,"b":79,"q":-0.78},{"h":-0.67,"a":80.5,"p":0,"b":81.5,"q":0},{"h":-0.78,"a":82.5,"p":0,"b":83.5,"q":0},{"h":-1.33,"a":81,"p":-0.67,"b":83,"q":-0.78},{"h":-1.87,"a":78,"p":-1.43,"b":82,"q":-1.33},{"h":-0.67,"a":84.5,"p":0,"b":85.5,"q":0},{"h":-0.78,"a":86.5,"p":0,"b":87.5,"q":0},{"h":-1.33,"a":85,"p":-0.67,"b":87,"q":-0.78},{"h":-0.67,"a":88.5,"p":0,"b":89.5,"q":0},{"h":-0.78,"a":90.5,"p":0,"b":91.5,"q":0},{"h":-1.33,"a":89,"p":-0.67,"b":91,"q":-0.78},{"h":-1.76,"a":86,"p":-1.33,"b":90,"q":-1.33},{"h":-2.09,"a":80,"p":-1.87,"b":88,"q":-1.76},{"h":-2.41,"a":72.5,"p":-1.98,"b":84,"q":-2.09},{"h":-3.55,"a":23,"p":-3.22,"b":78,"q":-2.41}],
"fHead":[{"t":"Leaf","k":"g","x":1.5,"y":-5.88},{"t":"Root","k":"g","x":4.5,"y":-5.88},{"t":"Seed","k":"g","x":7.5,"y":-5.88},{"t":"Ar","k":"s","x":0.5,"y":-2.11},{"t":"Wj","k":"s","x":1.5,"y":-2.11},{"t":"Bj","k":"s","x":2.5,"y":-2.11},{"t":"Ar","k":"s","x":3.5,"y":-2.11},{"t":"Wj","k":"s","x":4.5,"y":-2.11},{"t":"Bj","k":"s","x":5.5,"y":-2.11},{"t":"Ar","k":"s","x":6.5,"y":-2.11},{"t":"Wj","k":"s","x":7.5,"y":-2.11},{"t":"Bj","k":"s","x":8.5,"y":-2.11},{"t":"f","k":"l","x":-3.53,"y":-4.43},{"t":"Transporter and NPF family genes","k":"c","x":4.5,"y":94.3}]
},
"vconcat":[
{"spacing":0,"bounds":"flush","resolve":{"scale":{"color":"independent","stroke":"independent","shape":"independent"},"legend":{"color":"independent","stroke":"independent","shape":"independent"}},"hconcat":[
{"width":279,"height":232,"layer":[
{"data":{"name":"venn"},"mark":{"type":"point","filled":true,"size":11535,"opacity":0.6},"encoding":{"x":{"field":"x","type":"quantitative","scale":{"domain":[0,139.5],"nice":false},"axis":null},"y":{"field":"y","type":"quantitative","scale":{"domain":[0,116],"reverse":true,"nice":false},"axis":null},"color":{"field":"set","type":"nominal","scale":{"domain":["A. rusticana","B. juncea","W. japonica"],"range":["#2f8a3f","#6ba5dc","#ec6a78"]},"legend":null}}},
{"data":{"name":"vennCounts"},"mark":{"type":"text","fontSize":8.5,"fontWeight":600,"fill":"#111"},"encoding":{"x":{"field":"x","type":"quantitative"},"y":{"field":"y","type":"quantitative"},"text":{"field":"n"}}},
{"data":{"name":"vennNames"},"mark":{"type":"text","fontSize":9.5,"fontWeight":"bold","fontStyle":"italic"},"encoding":{"x":{"field":"x","type":"quantitative"},"y":{"field":"y","type":"quantitative"},"text":{"field":"set"},"color":{"field":"set","type":"nominal","scale":{"domain":["A. rusticana","B. juncea","W. japonica"],"range":["#1e7a45","#5b9bd5","#e85a6a"]},"legend":null}}},
{"data":{"name":"lettersTop"},"mark":{"type":"text","fontSize":12,"fontWeight":"bold","font":"Liberation Sans","fill":"#111"},"encoding":{"x":{"field":"x","type":"quantitative"},"y":{"field":"y","type":"quantitative"},"text":{"field":"t"}}}
],"resolve":{"scale":{"color":"independent"}}},
{"width":162,"height":184,"layer":[
{"data":{"name":"minorX"},"mark":{"type":"rule","stroke":"#f2f2f2","strokeWidth":0.7},"encoding":{"x":{"field":"v","type":"quantitative","scale":{"domain":[-24.6,15.9],"nice":false,"zero":false},"axis":{"values":[-20,-10,0,10],"labelOverlap":false,"grid":true,"gridColor":"#eeeeee","domain":false,"tickSize":0,"labelFontSize":5,"labelColor":"#888","labelPadding":2,"title":"Dim1 (27.6%)","titleFontSize":8.6,"titleFontWeight":"bold","titleColor":"#111","titlePadding":6,"titleX":95}}}},
{"data":{"name":"minorY"},"mark":{"type":"rule","stroke":"#f2f2f2","strokeWidth":0.7},"encoding":{"y":{"field":"v","type":"quantitative","scale":{"domain":[-26.4,12.1],"nice":false,"zero":false},"axis":{"values":[-20,-10,0,10],"labelOverlap":false,"labelBound":false,"labelFlush":false,"grid":true,"gridColor":"#eeeeee","domain":false,"ticks":true,"tickSize":2,"tickColor":"#888","labelFontSize":5,"labelColor":"#777","labelPadding":1,"title":"Dim2 (22.7%)","titleFontSize":8.6,"titleFontWeight":"bold","titleColor":"#111","titlePadding":7,"titleY":80}}}},
{"data":{"name":"zero"},"mark":{"type":"rule","stroke":"#555","strokeDash":[3,2],"strokeWidth":0.8},"encoding":{"x":{"field":"v","type":"quantitative"}}},
{"data":{"name":"zero"},"mark":{"type":"rule","stroke":"#555","strokeDash":[3,2],"strokeWidth":0.8},"encoding":{"y":{"field":"v","type":"quantitative"}}},
{"data":{"name":"pca"},"mark":{"type":"point","filled":false,"size":4,"strokeWidth":0.5,"opacity":0.8},"encoding":{"x":{"field":"d1","type":"quantitative"},"y":{"field":"d2","type":"quantitative"},"color":{"field":"g","type":"nominal","scale":{"domain":["ArL","ArR","ArS","BjL","BjR","BjS","WjL","WjR","WjS"],"range":["#f8766d","#e18a00","#a3a500","#39b54a","#2fb6a0","#1cb4ea","#6f9be0","#a878cc","#e85aa8"]},"legend":{"orient":"none","legendX":166.7,"legendY":57,"title":"Groups","titleFontSize":6.5,"titleFontWeight":"bold","titleColor":"#111","titlePadding":3,"symbolType":"square","symbolSize":40,"symbolStrokeWidth":0.7,"symbolOpacity":0.45,"rowPadding":0.8,"labelFontSize":6,"labelFontStyle":"italic","labelFontWeight":"bold","labelColor":"#222","labelOffset":3}}}},
{"data":{"name":"pca"},"mark":{"type":"text","fontSize":6,"fontStyle":"italic","fontWeight":600},"encoding":{"x":{"field":"lx","type":"quantitative"},"y":{"field":"ly","type":"quantitative"},"text":{"field":"s"},"color":{"field":"g","type":"nominal","legend":null}}}
]},
{"width":244,"height":232,"layer":[
{"data":{"name":"flowLines"},"transform":[{"filter":"datum.kind=='dot'"}],"mark":{"type":"rule","strokeWidth":1.6,"strokeDash":[1.5,1.5]},"encoding":{"x":{"field":"x","type":"quantitative","scale":{"domain":[0,122],"nice":false},"axis":null},"y":{"field":"y","type":"quantitative","scale":{"domain":[0,116],"reverse":true,"nice":false},"axis":null},"y2":{"field":"y2"},"color":{"field":"tone","type":"nominal","scale":{"domain":["dark","gray","red"],"range":["#231815","#b5b5b5","#e60012"]},"legend":null}}},
{"data":{"name":"flowLines"},"transform":[{"filter":"datum.kind=='solid'"}],"mark":{"type":"rule","strokeWidth":1.6},"encoding":{"x":{"field":"x","type":"quantitative"},"y":{"field":"y","type":"quantitative"},"y2":{"field":"y2"},"color":{"field":"tone","type":"nominal","legend":null}}},
{"data":{"name":"flowArm"},"mark":{"type":"rule","strokeWidth":1.6,"stroke":"#231815"},"encoding":{"x":{"field":"x","type":"quantitative"},"x2":{"field":"x2"},"y":{"field":"y","type":"quantitative"}}},
{"data":{"name":"flowHeads"},"mark":{"type":"point","filled":true,"size":28,"opacity":1},"encoding":{"x":{"field":"x","type":"quantitative"},"y":{"field":"y","type":"quantitative"},"shape":{"field":"d","type":"nominal","scale":{"domain":["down","left"],"range":["triangle-down","triangle-left"]},"legend":null},"color":{"field":"tone","type":"nominal","legend":null}}},
{"data":{"name":"flowText"},"transform":[{"filter":"datum.k=='stage'"}],"mark":{"type":"text","fontSize":8.8,"fontWeight":600},"encoding":{"x":{"field":"x","type":"quantitative"},"y":{"field":"y","type":"quantitative"},"text":{"field":"t"},"color":{"field":"tone","type":"nominal","legend":null}}},
{"data":{"name":"flowText"},"transform":[{"filter":"datum.k=='note'"}],"mark":{"type":"text","fontSize":6.3,"fontWeight":600},"encoding":{"x":{"field":"x","type":"quantitative"},"y":{"field":"y","type":"quantitative"},"text":{"field":"t"},"color":{"field":"tone","type":"nominal","legend":null}}},
{"data":{"name":"flowText"},"transform":[{"filter":"datum.k=='noteR'"}],"mark":{"type":"text","fontSize":6.3,"fontWeight":600,"angle":90},"encoding":{"x":{"field":"x","type":"quantitative"},"y":{"field":"y","type":"quantitative"},"text":{"field":"t"},"color":{"field":"tone","type":"nominal","legend":null}}},
{"data":{"name":"flowText"},"transform":[{"filter":"datum.k=='stageR'"}],"mark":{"type":"text","fontSize":8.8,"fontWeight":600,"angle":90},"encoding":{"x":{"field":"x","type":"quantitative"},"y":{"field":"y","type":"quantitative"},"text":{"field":"t"},"color":{"field":"tone","type":"nominal","legend":null}}},
{"data":{"name":"flowText"},"transform":[{"filter":"datum.k=='letter'"}],"mark":{"type":"text","fontSize":12,"fontWeight":"bold","font":"Liberation Sans"},"encoding":{"x":{"field":"x","type":"quantitative"},"y":{"field":"y","type":"quantitative"},"text":{"field":"t"},"color":{"field":"tone","type":"nominal","legend":null}}}
]}
]},
{"spacing":0,"bounds":"flush","resolve":{"scale":{"color":"independent","stroke":"independent"},"legend":{"color":"independent","stroke":"independent"}},"hconcat":[
{"width":228,"height":355,"layer":[
{"data":{"name":"dCells"},"transform":[{"calculate":"datum.c+1","as":"c2"},{"calculate":"datum.r-1","as":"r0"}],"mark":{"type":"rect","strokeWidth":0.4},"encoding":{"x":{"field":"c","type":"quantitative","scale":{"domain":[-3.67,11.27],"nice":false,"zero":false},"axis":null},"x2":{"field":"c2"},"y":{"field":"r0","type":"quantitative","scale":{"domain":[-2.708,35.28],"reverse":true,"nice":false,"zero":false},"axis":null},"y2":{"field":"r"},"stroke":{"field":"v","type":"quantitative","scale":{"domain":[-4,-3,-2,-1,0,0.5,1,2,3,4],"range":["#004ea2","#3f4ca0","#7b78b8","#a3b3e0","#a9d8e8","#c5c5c5","#dfb0a8","#f28b70","#ee4a2c","#e60012"],"clamp":true},"legend":null},"color":{"field":"v","type":"quantitative","scale":{"domain":[-4,-3,-2,-1,0,0.5,1,2,3,4],"range":["#004ea2","#3f4ca0","#7b78b8","#a3b3e0","#a9d8e8","#c5c5c5","#dfb0a8","#f28b70","#ee4a2c","#e60012"],"clamp":true},"legend":{"type":"symbol","orient":"none","legendX":198,"legendY":304,"values":[4,2,0,-2,-4],"title":"log₂(FPKM)","titleFontSize":5.2,"titleFontWeight":"bold","titleColor":"#111","titlePadding":2,"symbolType":"square","symbolSize":40,"symbolStrokeWidth":0,"rowPadding":0,"clipHeight":6.2,"labelFontSize":5.5,"labelFontWeight":"bold","labelColor":"#111","labelOffset":2,"symbolOpacity":1}}}},
{"data":{"name":"dTree"},"mark":{"type":"rule","stroke":"#9a9a9a","strokeWidth":0.9},"encoding":{"x":{"field":"h","type":"quantitative"},"y":{"field":"a","type":"quantitative"},"y2":{"field":"b"}}},
{"data":{"name":"dTree"},"mark":{"type":"rule","stroke":"#9a9a9a","strokeWidth":0.9},"encoding":{"x":{"field":"p","type":"quantitative"},"x2":{"field":"h"},"y":{"field":"a","type":"quantitative"}}},
{"data":{"name":"dTree"},"mark":{"type":"rule","stroke":"#9a9a9a","strokeWidth":0.9},"encoding":{"x":{"field":"q","type":"quantitative"},"x2":{"field":"h"},"y":{"field":"b","type":"quantitative"}}},
{"data":{"name":"groupSpans"},"transform":[{"calculate":"-1.53","as":"y"}],"mark":{"type":"rule","stroke":"#444","strokeWidth":0.9},"encoding":{"x":{"field":"a","type":"quantitative"},"x2":{"field":"b"},"y":{"field":"y","type":"quantitative"}}},
{"data":{"name":"dHead"},"transform":[{"filter":"datum.k=='g'"}],"mark":{"type":"text","fontSize":7.5,"fontWeight":600,"fill":"#222"},"encoding":{"x":{"field":"x","type":"quantitative"},"y":{"field":"y","type":"quantitative"},"text":{"field":"t"}}},
{"data":{"name":"dHead"},"transform":[{"filter":"datum.k=='s'"}],"mark":{"type":"text","fontSize":7,"fontWeight":600,"fontStyle":"italic","fill":"#222"},"encoding":{"x":{"field":"x","type":"quantitative"},"y":{"field":"y","type":"quantitative"},"text":{"field":"t"}}},
{"data":{"name":"dHead"},"transform":[{"filter":"datum.k=='l'"}],"mark":{"type":"text","fontSize":12,"fontWeight":"bold","font":"Liberation Sans","fill":"#111"},"encoding":{"x":{"field":"x","type":"quantitative"},"y":{"field":"y","type":"quantitative"},"text":{"field":"t"}}},
{"data":{"name":"dHead"},"transform":[{"filter":"datum.k=='c'"}],"mark":{"type":"text","fontSize":7.5,"fontWeight":600,"fill":"#222"},"encoding":{"x":{"field":"x","type":"quantitative"},"y":{"field":"y","type":"quantitative"},"text":{"field":"t"}}}
]},
{"width":229,"height":355,"layer":[
{"data":{"name":"eCells"},"transform":[{"calculate":"datum.c+1","as":"c2"},{"calculate":"datum.r-1","as":"r0"}],"mark":{"type":"rect","strokeWidth":0.4},"encoding":{"x":{"field":"c","type":"quantitative","scale":{"domain":[-3.63,11.3],"nice":false,"zero":false},"axis":null},"x2":{"field":"c2"},"y":{"field":"r0","type":"quantitative","scale":{"domain":[-2.15,28.02],"reverse":true,"nice":false,"zero":false},"axis":null},"y2":{"field":"r"},"stroke":{"field":"v","type":"quantitative","scale":{"domain":[-4,-3,-2,-1,0,0.5,1,2,3,4],"range":["#004ea2","#3f4ca0","#7b78b8","#a3b3e0","#a9d8e8","#c5c5c5","#dfb0a8","#f28b70","#ee4a2c","#e60012"],"clamp":true},"legend":null},"color":{"field":"v","type":"quantitative","scale":{"domain":[-4,-3,-2,-1,0,0.5,1,2,3,4],"range":["#004ea2","#3f4ca0","#7b78b8","#a3b3e0","#a9d8e8","#c5c5c5","#dfb0a8","#f28b70","#ee4a2c","#e60012"],"clamp":true},"legend":{"type":"symbol","orient":"none","legendX":198,"legendY":304,"values":[4,2,0,-2,-4],"title":"log₂(FPKM)","titleFontSize":5.2,"titleFontWeight":"bold","titleColor":"#111","titlePadding":2,"symbolType":"square","symbolSize":40,"symbolStrokeWidth":0,"rowPadding":0,"clipHeight":6.2,"labelFontSize":5.5,"labelFontWeight":"bold","labelColor":"#111","labelOffset":2,"symbolOpacity":1}}}},
{"data":{"name":"eTree"},"mark":{"type":"rule","stroke":"#9a9a9a","strokeWidth":0.9},"encoding":{"x":{"field":"h","type":"quantitative"},"y":{"field":"a","type":"quantitative"},"y2":{"field":"b"}}},
{"data":{"name":"eTree"},"mark":{"type":"rule","stroke":"#9a9a9a","strokeWidth":0.9},"encoding":{"x":{"field":"p","type":"quantitative"},"x2":{"field":"h"},"y":{"field":"a","type":"quantitative"}}},
{"data":{"name":"eTree"},"mark":{"type":"rule","stroke":"#9a9a9a","strokeWidth":0.9},"encoding":{"x":{"field":"q","type":"quantitative"},"x2":{"field":"h"},"y":{"field":"b","type":"quantitative"}}},
{"data":{"name":"groupSpans"},"transform":[{"calculate":"-1.22","as":"y"}],"mark":{"type":"rule","stroke":"#444","strokeWidth":0.9},"encoding":{"x":{"field":"a","type":"quantitative"},"x2":{"field":"b"},"y":{"field":"y","type":"quantitative"}}},
{"data":{"name":"eHead"},"transform":[{"filter":"datum.k=='g'"}],"mark":{"type":"text","fontSize":7.5,"fontWeight":600,"fill":"#222"},"encoding":{"x":{"field":"x","type":"quantitative"},"y":{"field":"y","type":"quantitative"},"text":{"field":"t"}}},
{"data":{"name":"eHead"},"transform":[{"filter":"datum.k=='s'"}],"mark":{"type":"text","fontSize":7,"fontWeight":600,"fontStyle":"italic","fill":"#222"},"encoding":{"x":{"field":"x","type":"quantitative"},"y":{"field":"y","type":"quantitative"},"text":{"field":"t"}}},
{"data":{"name":"eHead"},"transform":[{"filter":"datum.k=='l'"}],"mark":{"type":"text","fontSize":12,"fontWeight":"bold","font":"Liberation Sans","fill":"#111"},"encoding":{"x":{"field":"x","type":"quantitative"},"y":{"field":"y","type":"quantitative"},"text":{"field":"t"}}},
{"data":{"name":"eHead"},"transform":[{"filter":"datum.k=='c'"}],"mark":{"type":"text","fontSize":7.5,"fontWeight":600,"fill":"#222"},"encoding":{"x":{"field":"x","type":"quantitative"},"y":{"field":"y","type":"quantitative"},"text":{"field":"t"}}}
]},
{"width":228,"height":355,"layer":[
{"data":{"name":"fCells"},"transform":[{"calculate":"datum.c+1","as":"c2"},{"calculate":"datum.r-1","as":"r0"}],"mark":{"type":"rect","strokeWidth":0.4},"encoding":{"x":{"field":"c","type":"quantitative","scale":{"domain":[-3.59,11.31],"nice":false,"zero":false},"axis":null},"x2":{"field":"c2"},"y":{"field":"r0","type":"quantitative","scale":{"domain":[-7.33,95.48],"reverse":true,"nice":false,"zero":false},"axis":null},"y2":{"field":"r"},"stroke":{"field":"v","type":"quantitative","scale":{"domain":[-4,-3,-2,-1,0,0.5,1,2,3,4],"range":["#004ea2","#3f4ca0","#7b78b8","#a3b3e0","#a9d8e8","#c5c5c5","#dfb0a8","#f28b70","#ee4a2c","#e60012"],"clamp":true},"legend":null},"color":{"field":"v","type":"quantitative","scale":{"domain":[-4,-3,-2,-1,0,0.5,1,2,3,4],"range":["#004ea2","#3f4ca0","#7b78b8","#a3b3e0","#a9d8e8","#c5c5c5","#dfb0a8","#f28b70","#ee4a2c","#e60012"],"clamp":true},"legend":{"type":"symbol","orient":"none","legendX":197,"legendY":304,"values":[4,2,0,-2,-4],"title":"log₂(FPKM)","titleFontSize":5.2,"titleFontWeight":"bold","titleColor":"#111","titlePadding":2,"symbolType":"square","symbolSize":40,"symbolStrokeWidth":0,"rowPadding":0,"clipHeight":6.2,"labelFontSize":5.5,"labelFontWeight":"bold","labelColor":"#111","labelOffset":2,"symbolOpacity":1}}}},
{"data":{"name":"fTree"},"mark":{"type":"rule","stroke":"#9a9a9a","strokeWidth":0.9},"encoding":{"x":{"field":"h","type":"quantitative"},"y":{"field":"a","type":"quantitative"},"y2":{"field":"b"}}},
{"data":{"name":"fTree"},"mark":{"type":"rule","stroke":"#9a9a9a","strokeWidth":0.9},"encoding":{"x":{"field":"p","type":"quantitative"},"x2":{"field":"h"},"y":{"field":"a","type":"quantitative"}}},
{"data":{"name":"fTree"},"mark":{"type":"rule","stroke":"#9a9a9a","strokeWidth":0.9},"encoding":{"x":{"field":"q","type":"quantitative"},"x2":{"field":"h"},"y":{"field":"b","type":"quantitative"}}},
{"data":{"name":"groupSpans"},"transform":[{"calculate":"-4.14","as":"y"}],"mark":{"type":"rule","stroke":"#444","strokeWidth":0.9},"encoding":{"x":{"field":"a","type":"quantitative"},"x2":{"field":"b"},"y":{"field":"y","type":"quantitative"}}},
{"data":{"name":"fHead"},"transform":[{"filter":"datum.k=='g'"}],"mark":{"type":"text","fontSize":7.5,"fontWeight":600,"fill":"#222"},"encoding":{"x":{"field":"x","type":"quantitative"},"y":{"field":"y","type":"quantitative"},"text":{"field":"t"}}},
{"data":{"name":"fHead"},"transform":[{"filter":"datum.k=='s'"}],"mark":{"type":"text","fontSize":7,"fontWeight":600,"fontStyle":"italic","fill":"#222"},"encoding":{"x":{"field":"x","type":"quantitative"},"y":{"field":"y","type":"quantitative"},"text":{"field":"t"}}},
{"data":{"name":"fHead"},"transform":[{"filter":"datum.k=='l'"}],"mark":{"type":"text","fontSize":12,"fontWeight":"bold","font":"Liberation Sans","fill":"#111"},"encoding":{"x":{"field":"x","type":"quantitative"},"y":{"field":"y","type":"quantitative"},"text":{"field":"t"}}},
{"data":{"name":"fHead"},"transform":[{"filter":"datum.k=='c'"}],"mark":{"type":"text","fontSize":7.5,"fontWeight":600,"fill":"#222"},"encoding":{"x":{"field":"x","type":"quantitative"},"y":{"field":"y","type":"quantitative"},"text":{"field":"t"}}}
]}
]}
]}
